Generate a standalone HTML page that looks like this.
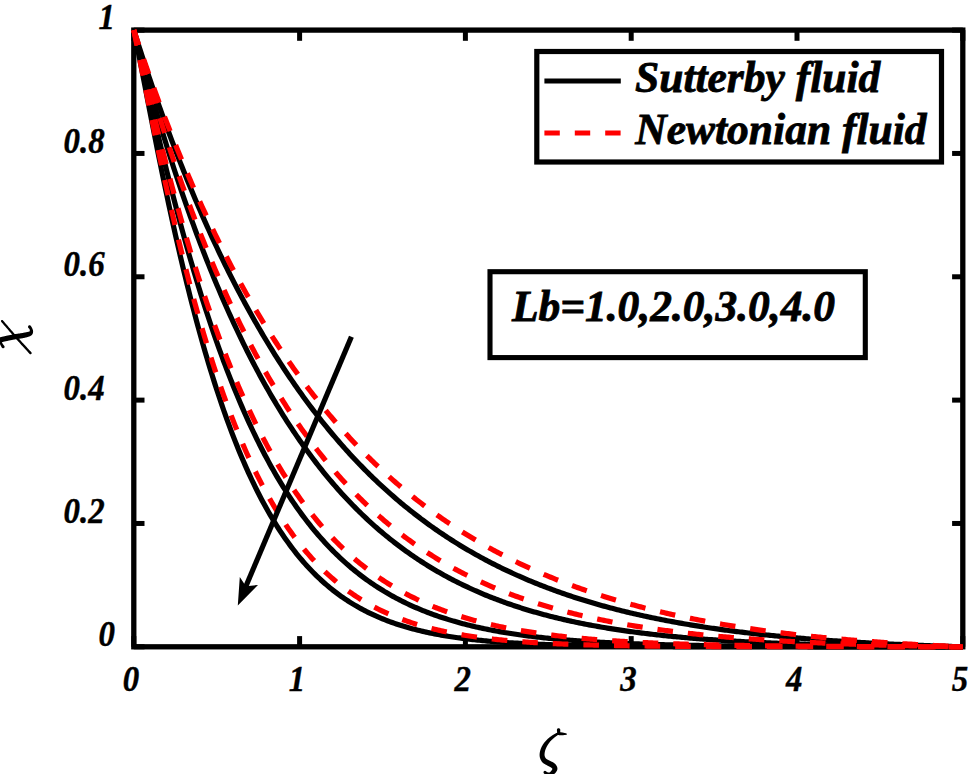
<!DOCTYPE html>
<html><head><meta charset="utf-8"><style>
html,body{margin:0;padding:0;background:#fff;}
svg{display:block;}
</style></head><body>
<svg width="969" height="774" viewBox="0 0 969 774">
<rect width="969" height="774" fill="#fff"/>
<rect x="133.8" y="30.1" width="829.0" height="616.6999999999999" fill="none" stroke="#000" stroke-width="5.3"/>
<g stroke="#000" stroke-width="5"><line x1="133.80" y1="646.8" x2="133.80" y2="636.0999999999999" /><line x1="133.80" y1="30.1" x2="133.80" y2="40.8" /><line x1="299.60" y1="646.8" x2="299.60" y2="636.0999999999999" /><line x1="299.60" y1="30.1" x2="299.60" y2="40.8" /><line x1="465.40" y1="646.8" x2="465.40" y2="636.0999999999999" /><line x1="465.40" y1="30.1" x2="465.40" y2="40.8" /><line x1="631.20" y1="646.8" x2="631.20" y2="636.0999999999999" /><line x1="631.20" y1="30.1" x2="631.20" y2="40.8" /><line x1="797.00" y1="646.8" x2="797.00" y2="636.0999999999999" /><line x1="797.00" y1="30.1" x2="797.00" y2="40.8" /><line x1="962.80" y1="646.8" x2="962.80" y2="636.0999999999999" /><line x1="962.80" y1="30.1" x2="962.80" y2="40.8" /><line x1="133.8" y1="646.80" x2="144.5" y2="646.80" /><line x1="962.8" y1="646.80" x2="952.0999999999999" y2="646.80" /><line x1="133.8" y1="523.46" x2="144.5" y2="523.46" /><line x1="962.8" y1="523.46" x2="952.0999999999999" y2="523.46" /><line x1="133.8" y1="400.12" x2="144.5" y2="400.12" /><line x1="962.8" y1="400.12" x2="952.0999999999999" y2="400.12" /><line x1="133.8" y1="276.78" x2="144.5" y2="276.78" /><line x1="962.8" y1="276.78" x2="952.0999999999999" y2="276.78" /><line x1="133.8" y1="153.44" x2="144.5" y2="153.44" /><line x1="962.8" y1="153.44" x2="952.0999999999999" y2="153.44" /><line x1="133.8" y1="30.10" x2="144.5" y2="30.10" /><line x1="962.8" y1="30.10" x2="952.0999999999999" y2="30.10" /></g>
<polyline points="133.80,30.10 135.46,37.84 137.12,46.03 138.78,54.40 140.45,62.89 142.11,71.43 143.77,80.01 145.43,88.60 147.09,97.18 148.75,105.74 150.41,114.27 152.07,122.76 153.74,131.19 155.40,139.58 157.06,147.90 158.72,156.15 160.38,164.34 162.04,172.45 163.70,180.48 165.37,188.43 167.03,196.30 168.69,204.09 170.35,211.79 172.01,219.40 173.67,226.92 175.33,234.35 176.99,241.69 178.66,248.94 180.32,256.10 181.98,263.16 183.64,270.13 185.30,277.00 186.96,283.78 188.62,290.47 190.28,297.06 191.95,303.55 193.61,309.96 195.27,316.27 196.93,322.48 198.59,328.61 200.25,334.64 201.91,340.58 203.58,346.43 205.24,352.19 206.90,357.85 208.56,363.43 210.22,368.92 211.88,374.32 213.54,379.64 215.20,384.86 216.87,390.00 218.53,395.06 220.19,400.03 221.85,404.92 223.51,409.73 225.17,414.45 226.83,419.10 228.50,423.66 230.16,428.15 231.82,432.56 233.48,436.89 235.14,441.15 236.80,445.33 238.46,449.43 240.12,453.47 241.79,457.43 243.45,461.32 245.11,465.14 246.77,468.89 248.43,472.57 250.09,476.19 251.75,479.74 253.42,483.22 255.08,486.64 256.74,489.99 258.40,493.28 260.06,496.52 261.72,499.69 263.38,502.79 265.04,505.85 266.71,508.84 268.37,511.77 270.03,514.65 271.69,517.48 273.35,520.25 275.01,522.96 276.67,525.62 278.34,528.24 280.00,530.80 281.66,533.30 283.32,535.76 284.98,538.18 286.64,540.54 288.30,542.86 289.96,545.13 291.63,547.35 293.29,549.53 294.95,551.67 296.61,553.76 298.27,555.82 299.93,557.83 301.59,559.79 303.25,561.72 304.92,563.61 306.58,565.46 308.24,567.28 309.90,569.05 311.56,570.79 313.22,572.49 314.88,574.16 316.55,575.79 318.21,577.39 319.87,578.96 321.53,580.49 323.19,581.99 324.85,583.46 326.51,584.90 328.17,586.31 329.84,587.68 331.50,589.03 333.16,590.35 334.82,591.64 336.48,592.91 338.14,594.14 339.80,595.35 341.47,596.54 343.13,597.70 344.79,598.83 346.45,599.94 348.11,601.03 349.77,602.09 351.43,603.13 353.09,604.14 354.76,605.14 356.42,606.11 358.08,607.06 359.74,607.99 361.40,608.90 363.06,609.79 364.72,610.66 366.39,611.51 368.05,612.34 369.71,613.15 371.37,613.94 373.03,614.72 374.69,615.48 376.35,616.22 378.01,616.95 379.68,617.66 381.34,618.35 383.00,619.03 384.66,619.69 386.32,620.34 387.98,620.98 389.64,621.59 391.31,622.20 392.97,622.79 394.63,623.37 396.29,623.93 397.95,624.48 399.61,625.02 401.27,625.55 402.93,626.06 404.60,626.56 406.26,627.06 407.92,627.53 409.58,628.00 411.24,628.46 412.90,628.91 414.56,629.34 416.22,629.77 417.89,630.19 419.55,630.59 421.21,630.99 422.87,631.38 424.53,631.76 426.19,632.13 427.85,632.49 429.52,632.84 431.18,633.19 432.84,633.52 434.50,633.85 436.16,634.17 437.82,634.49 439.48,634.79 441.14,635.09 442.81,635.38 444.47,635.67 446.13,635.94 447.79,636.21 449.45,636.48 451.11,636.74 452.77,636.99 454.44,637.23 456.10,637.47 457.76,637.71 459.42,637.94 461.08,638.16 462.74,638.38 464.40,638.59 466.06,638.80 467.73,639.00 469.39,639.20 471.05,639.39 472.71,639.58 474.37,639.76 476.03,639.94 477.69,640.11 479.36,640.28 481.02,640.45 482.68,640.61 484.34,640.77 486.00,640.92 487.66,641.07 489.32,641.22 490.98,641.36 492.65,641.50 494.31,641.64 495.97,641.77 497.63,641.90 499.29,642.03 500.95,642.15 502.61,642.27 504.27,642.39 505.94,642.50 507.60,642.61 509.26,642.72 510.92,642.83 512.58,642.93 514.24,643.03 515.90,643.13 517.57,643.22 519.23,643.32 520.89,643.41 522.55,643.50 524.21,643.58 525.87,643.67 527.53,643.75 529.19,643.83 530.86,643.91 532.52,643.98 534.18,644.06 535.84,644.13 537.50,644.20 539.16,644.27 540.82,644.33 542.49,644.40 544.15,644.46 545.81,644.52 547.47,644.58 549.13,644.64 550.79,644.70 552.45,644.75 554.11,644.81 555.78,644.86 557.44,644.91 559.10,644.96 560.76,645.01 562.42,645.06 564.08,645.11 565.74,645.15 567.41,645.20 569.07,645.24 570.73,645.28 572.39,645.32 574.05,645.36 575.71,645.40 577.37,645.44 579.03,645.47 580.70,645.51 582.36,645.54 584.02,645.58 585.68,645.61 587.34,645.64 589.00,645.67 590.66,645.70 592.33,645.73 593.99,645.76 595.65,645.79 597.31,645.82 598.97,645.84 600.63,645.87 602.29,645.90 603.95,645.92 605.62,645.94 607.28,645.97 608.94,645.99 610.60,646.01 612.26,646.03 613.92,646.05 615.58,646.07 617.24,646.09 618.91,646.11 620.57,646.13 622.23,646.15 623.89,646.17 625.55,646.19 627.21,646.20 628.87,646.22 630.54,646.24 632.20,646.25 633.86,646.27 635.52,646.28 637.18,646.30 638.84,646.31 640.50,646.32 642.16,646.34 643.83,646.35 645.49,646.36 647.15,646.37 648.81,646.39 650.47,646.40 652.13,646.41 653.79,646.42 655.46,646.43 657.12,646.44 658.78,646.45 660.44,646.46 662.10,646.47 663.76,646.48 665.42,646.49 667.08,646.50 668.75,646.50 670.41,646.51 672.07,646.52 673.73,646.53 675.39,646.54 677.05,646.54 678.71,646.55 680.38,646.56 682.04,646.56 683.70,646.57 685.36,646.58 687.02,646.58 688.68,646.59 690.34,646.60 692.00,646.60 693.67,646.61 695.33,646.61 696.99,646.62 698.65,646.62 700.31,646.63 701.97,646.63 703.63,646.64 705.29,646.64 706.96,646.65 708.62,646.65 710.28,646.66 711.94,646.66 713.60,646.66 715.26,646.67 716.92,646.67 718.59,646.68 720.25,646.68 721.91,646.68 723.57,646.69 725.23,646.69 726.89,646.69 728.55,646.70 730.21,646.70 731.88,646.70 733.54,646.70 735.20,646.71 736.86,646.71 738.52,646.71 740.18,646.72 741.84,646.72 743.51,646.72 745.17,646.72 746.83,646.72 748.49,646.73 750.15,646.73 751.81,646.73 753.47,646.73 755.13,646.74 756.80,646.74 758.46,646.74 760.12,646.74 761.78,646.74 763.44,646.74 765.10,646.75 766.76,646.75 768.43,646.75 770.09,646.75 771.75,646.75 773.41,646.75 775.07,646.75 776.73,646.76 778.39,646.76 780.05,646.76 781.72,646.76 783.38,646.76 785.04,646.76 786.70,646.76 788.36,646.76 790.02,646.77 791.68,646.77 793.35,646.77 795.01,646.77 796.67,646.77 798.33,646.77 799.99,646.77 801.65,646.77 803.31,646.77 804.97,646.77 806.64,646.77 808.30,646.78 809.96,646.78 811.62,646.78 813.28,646.78 814.94,646.78 816.60,646.78 818.26,646.78 819.93,646.78 821.59,646.78 823.25,646.78 824.91,646.78 826.57,646.78 828.23,646.78 829.89,646.78 831.56,646.78 833.22,646.79 834.88,646.79 836.54,646.79 838.20,646.79 839.86,646.79 841.52,646.79 843.18,646.79 844.85,646.79 846.51,646.79 848.17,646.79 849.83,646.79 851.49,646.79 853.15,646.79 854.81,646.79 856.48,646.79 858.14,646.79 859.80,646.79 861.46,646.79 863.12,646.79 864.78,646.79 866.44,646.79 868.10,646.79 869.77,646.79 871.43,646.79 873.09,646.79 874.75,646.79 876.41,646.79 878.07,646.79 879.73,646.79 881.40,646.79 883.06,646.79 884.72,646.80 886.38,646.80 888.04,646.80 889.70,646.80 891.36,646.80 893.02,646.80 894.69,646.80 896.35,646.80 898.01,646.80 899.67,646.80 901.33,646.80 902.99,646.80 904.65,646.80 906.32,646.80 907.98,646.80 909.64,646.80 911.30,646.80 912.96,646.80 914.62,646.80 916.28,646.80 917.94,646.80 919.61,646.80 921.27,646.80 922.93,646.80 924.59,646.80 926.25,646.80 927.91,646.80 929.57,646.80 931.23,646.80 932.90,646.80 934.56,646.80 936.22,646.80 937.88,646.80 939.54,646.80 941.20,646.80 942.86,646.80 944.53,646.80 946.19,646.80 947.85,646.80 949.51,646.80 951.17,646.80 952.83,646.80 954.49,646.80 956.15,646.80 957.82,646.80 959.48,646.80 961.14,646.80 962.80,646.80" fill="none" stroke="#000" stroke-width="5.2" stroke-linejoin="round"/>
<polyline points="133.80,30.10 135.46,37.08 137.12,44.27 138.78,51.54 140.45,58.85 142.11,66.17 143.77,73.49 145.43,80.79 147.09,88.07 148.75,95.33 150.41,102.54 152.07,109.72 153.74,116.85 155.40,123.94 157.06,130.97 158.72,137.96 160.38,144.88 162.04,151.75 163.70,158.56 165.37,165.32 167.03,172.01 168.69,178.63 170.35,185.20 172.01,191.70 173.67,198.14 175.33,204.51 176.99,210.82 178.66,217.06 180.32,223.23 181.98,229.34 183.64,235.38 185.30,241.35 186.96,247.26 188.62,253.10 190.28,258.88 191.95,264.59 193.61,270.23 195.27,275.80 196.93,281.31 198.59,286.76 200.25,292.13 201.91,297.45 203.58,302.69 205.24,307.88 206.90,313.00 208.56,318.05 210.22,323.04 211.88,327.97 213.54,332.83 215.20,337.64 216.87,342.38 218.53,347.06 220.19,351.67 221.85,356.23 223.51,360.73 225.17,365.17 226.83,369.55 228.50,373.87 230.16,378.13 231.82,382.33 233.48,386.48 235.14,390.57 236.80,394.61 238.46,398.59 240.12,402.51 241.79,406.38 243.45,410.20 245.11,413.97 246.77,417.68 248.43,421.34 250.09,424.94 251.75,428.50 253.42,432.00 255.08,435.46 256.74,438.87 258.40,442.22 260.06,445.53 261.72,448.79 263.38,452.01 265.04,455.18 266.71,458.30 268.37,461.37 270.03,464.40 271.69,467.39 273.35,470.33 275.01,473.23 276.67,476.08 278.34,478.90 280.00,481.67 281.66,484.40 283.32,487.09 284.98,489.73 286.64,492.34 288.30,494.91 289.96,497.44 291.63,499.93 293.29,502.39 294.95,504.80 296.61,507.18 298.27,509.52 299.93,511.83 301.59,514.10 303.25,516.34 304.92,518.54 306.58,520.71 308.24,522.84 309.90,524.94 311.56,527.01 313.22,529.05 314.88,531.05 316.55,533.02 318.21,534.96 319.87,536.87 321.53,538.75 323.19,540.60 324.85,542.43 326.51,544.22 328.17,545.98 329.84,547.72 331.50,549.43 333.16,551.11 334.82,552.76 336.48,554.39 338.14,555.99 339.80,557.56 341.47,559.11 343.13,560.64 344.79,562.14 346.45,563.61 348.11,565.07 349.77,566.49 351.43,567.90 353.09,569.28 354.76,570.64 356.42,571.98 358.08,573.29 359.74,574.59 361.40,575.86 363.06,577.11 364.72,578.34 366.39,579.55 368.05,580.74 369.71,581.91 371.37,583.06 373.03,584.19 374.69,585.30 376.35,586.40 378.01,587.47 379.68,588.53 381.34,589.57 383.00,590.59 384.66,591.60 386.32,592.59 387.98,593.56 389.64,594.51 391.31,595.45 392.97,596.38 394.63,597.28 396.29,598.18 397.95,599.05 399.61,599.91 401.27,600.76 402.93,601.59 404.60,602.41 406.26,603.22 407.92,604.01 409.58,604.79 411.24,605.55 412.90,606.30 414.56,607.04 416.22,607.76 417.89,608.48 419.55,609.18 421.21,609.86 422.87,610.54 424.53,611.20 426.19,611.86 427.85,612.50 429.52,613.13 431.18,613.75 432.84,614.36 434.50,614.95 436.16,615.54 437.82,616.12 439.48,616.68 441.14,617.24 442.81,617.79 444.47,618.33 446.13,618.85 447.79,619.37 449.45,619.88 451.11,620.38 452.77,620.87 454.44,621.36 456.10,621.83 457.76,622.30 459.42,622.76 461.08,623.20 462.74,623.65 464.40,624.08 466.06,624.51 467.73,624.92 469.39,625.33 471.05,625.74 472.71,626.13 474.37,626.52 476.03,626.91 477.69,627.28 479.36,627.65 481.02,628.01 482.68,628.37 484.34,628.71 486.00,629.06 487.66,629.39 489.32,629.72 490.98,630.05 492.65,630.37 494.31,630.68 495.97,630.99 497.63,631.29 499.29,631.58 500.95,631.87 502.61,632.16 504.27,632.44 505.94,632.71 507.60,632.98 509.26,633.25 510.92,633.51 512.58,633.76 514.24,634.01 515.90,634.26 517.57,634.50 519.23,634.74 520.89,634.97 522.55,635.20 524.21,635.42 525.87,635.64 527.53,635.86 529.19,636.07 530.86,636.28 532.52,636.48 534.18,636.68 535.84,636.88 537.50,637.07 539.16,637.26 540.82,637.44 542.49,637.63 544.15,637.80 545.81,637.98 547.47,638.15 549.13,638.32 550.79,638.49 552.45,638.65 554.11,638.81 555.78,638.97 557.44,639.12 559.10,639.27 560.76,639.42 562.42,639.56 564.08,639.71 565.74,639.85 567.41,639.98 569.07,640.12 570.73,640.25 572.39,640.38 574.05,640.51 575.71,640.63 577.37,640.75 579.03,640.87 580.70,640.99 582.36,641.10 584.02,641.22 585.68,641.33 587.34,641.44 589.00,641.54 590.66,641.65 592.33,641.75 593.99,641.85 595.65,641.95 597.31,642.05 598.97,642.14 600.63,642.24 602.29,642.33 603.95,642.42 605.62,642.51 607.28,642.59 608.94,642.68 610.60,642.76 612.26,642.84 613.92,642.92 615.58,643.00 617.24,643.08 618.91,643.15 620.57,643.23 622.23,643.30 623.89,643.37 625.55,643.44 627.21,643.51 628.87,643.57 630.54,643.64 632.20,643.70 633.86,643.77 635.52,643.83 637.18,643.89 638.84,643.95 640.50,644.01 642.16,644.06 643.83,644.12 645.49,644.18 647.15,644.23 648.81,644.28 650.47,644.33 652.13,644.38 653.79,644.43 655.46,644.48 657.12,644.53 658.78,644.58 660.44,644.62 662.10,644.67 663.76,644.71 665.42,644.76 667.08,644.80 668.75,644.84 670.41,644.88 672.07,644.92 673.73,644.96 675.39,645.00 677.05,645.04 678.71,645.07 680.38,645.11 682.04,645.14 683.70,645.18 685.36,645.21 687.02,645.25 688.68,645.28 690.34,645.31 692.00,645.34 693.67,645.37 695.33,645.40 696.99,645.43 698.65,645.46 700.31,645.49 701.97,645.52 703.63,645.55 705.29,645.57 706.96,645.60 708.62,645.62 710.28,645.65 711.94,645.67 713.60,645.70 715.26,645.72 716.92,645.75 718.59,645.77 720.25,645.79 721.91,645.81 723.57,645.83 725.23,645.85 726.89,645.88 728.55,645.90 730.21,645.92 731.88,645.93 733.54,645.95 735.20,645.97 736.86,645.99 738.52,646.01 740.18,646.03 741.84,646.04 743.51,646.06 745.17,646.08 746.83,646.09 748.49,646.11 750.15,646.12 751.81,646.14 753.47,646.15 755.13,646.17 756.80,646.18 758.46,646.19 760.12,646.21 761.78,646.22 763.44,646.23 765.10,646.25 766.76,646.26 768.43,646.27 770.09,646.28 771.75,646.30 773.41,646.31 775.07,646.32 776.73,646.33 778.39,646.34 780.05,646.35 781.72,646.36 783.38,646.37 785.04,646.38 786.70,646.39 788.36,646.40 790.02,646.41 791.68,646.42 793.35,646.43 795.01,646.44 796.67,646.45 798.33,646.45 799.99,646.46 801.65,646.47 803.31,646.48 804.97,646.49 806.64,646.49 808.30,646.50 809.96,646.51 811.62,646.52 813.28,646.52 814.94,646.53 816.60,646.54 818.26,646.54 819.93,646.55 821.59,646.56 823.25,646.56 824.91,646.57 826.57,646.57 828.23,646.58 829.89,646.59 831.56,646.59 833.22,646.60 834.88,646.60 836.54,646.61 838.20,646.61 839.86,646.62 841.52,646.62 843.18,646.63 844.85,646.63 846.51,646.64 848.17,646.64 849.83,646.64 851.49,646.65 853.15,646.65 854.81,646.66 856.48,646.66 858.14,646.67 859.80,646.67 861.46,646.67 863.12,646.68 864.78,646.68 866.44,646.68 868.10,646.69 869.77,646.69 871.43,646.69 873.09,646.70 874.75,646.70 876.41,646.70 878.07,646.71 879.73,646.71 881.40,646.71 883.06,646.72 884.72,646.72 886.38,646.72 888.04,646.72 889.70,646.73 891.36,646.73 893.02,646.73 894.69,646.73 896.35,646.74 898.01,646.74 899.67,646.74 901.33,646.74 902.99,646.75 904.65,646.75 906.32,646.75 907.98,646.75 909.64,646.75 911.30,646.76 912.96,646.76 914.62,646.76 916.28,646.76 917.94,646.76 919.61,646.77 921.27,646.77 922.93,646.77 924.59,646.77 926.25,646.77 927.91,646.77 929.57,646.77 931.23,646.78 932.90,646.78 934.56,646.78 936.22,646.78 937.88,646.78 939.54,646.78 941.20,646.79 942.86,646.79 944.53,646.79 946.19,646.79 947.85,646.79 949.51,646.79 951.17,646.79 952.83,646.79 954.49,646.79 956.15,646.80 957.82,646.80 959.48,646.80 961.14,646.80 962.80,646.80" fill="none" stroke="#000" stroke-width="5.2" stroke-linejoin="round"/>
<polyline points="133.80,30.10 135.46,36.49 137.12,42.81 138.78,49.08 140.45,55.28 142.11,61.43 143.77,67.51 145.43,73.54 147.09,79.51 148.75,85.43 150.41,91.29 152.07,97.09 153.74,102.84 155.40,108.53 157.06,114.17 158.72,119.76 160.38,125.29 162.04,130.77 163.70,136.20 165.37,141.57 167.03,146.90 168.69,152.17 170.35,157.40 172.01,162.57 173.67,167.69 175.33,172.77 176.99,177.80 178.66,182.77 180.32,187.71 181.98,192.59 183.64,197.43 185.30,202.22 186.96,206.96 188.62,211.66 190.28,216.31 191.95,220.92 193.61,225.48 195.27,230.00 196.93,234.48 198.59,238.91 200.25,243.30 201.91,247.65 203.58,251.96 205.24,256.22 206.90,260.44 208.56,264.62 210.22,268.76 211.88,272.86 213.54,276.92 215.20,280.94 216.87,284.92 218.53,288.86 220.19,292.77 221.85,296.63 223.51,300.46 225.17,304.25 226.83,308.00 228.50,311.71 230.16,315.39 231.82,319.03 233.48,322.64 235.14,326.21 236.80,329.74 238.46,333.24 240.12,336.71 241.79,340.14 243.45,343.53 245.11,346.89 246.77,350.22 248.43,353.52 250.09,356.78 251.75,360.01 253.42,363.21 255.08,366.37 256.74,369.51 258.40,372.61 260.06,375.68 261.72,378.72 263.38,381.73 265.04,384.71 266.71,387.65 268.37,390.57 270.03,393.46 271.69,396.32 273.35,399.15 275.01,401.95 276.67,404.73 278.34,407.47 280.00,410.19 281.66,412.88 283.32,415.54 284.98,418.17 286.64,420.78 288.30,423.36 289.96,425.91 291.63,428.44 293.29,430.94 294.95,433.42 296.61,435.87 298.27,438.29 299.93,440.69 301.59,443.06 303.25,445.41 304.92,447.74 306.58,450.04 308.24,452.32 309.90,454.57 311.56,456.80 313.22,459.01 314.88,461.19 316.55,463.35 318.21,465.49 319.87,467.60 321.53,469.70 323.19,471.77 324.85,473.81 326.51,475.84 328.17,477.85 329.84,479.83 331.50,481.80 333.16,483.74 334.82,485.66 336.48,487.56 338.14,489.44 339.80,491.30 341.47,493.14 343.13,494.97 344.79,496.77 346.45,498.55 348.11,500.31 349.77,502.06 351.43,503.78 353.09,505.49 354.76,507.18 356.42,508.85 358.08,510.50 359.74,512.14 361.40,513.75 363.06,515.35 364.72,516.94 366.39,518.50 368.05,520.05 369.71,521.58 371.37,523.09 373.03,524.59 374.69,526.07 376.35,527.53 378.01,528.98 379.68,530.42 381.34,531.83 383.00,533.23 384.66,534.62 386.32,535.99 387.98,537.34 389.64,538.69 391.31,540.01 392.97,541.32 394.63,542.62 396.29,543.90 397.95,545.17 399.61,546.42 401.27,547.66 402.93,548.88 404.60,550.10 406.26,551.29 407.92,552.48 409.58,553.65 411.24,554.81 412.90,555.95 414.56,557.08 416.22,558.20 417.89,559.31 419.55,560.40 421.21,561.49 422.87,562.56 424.53,563.61 426.19,564.66 427.85,565.69 429.52,566.71 431.18,567.72 432.84,568.72 434.50,569.71 436.16,570.68 437.82,571.65 439.48,572.60 441.14,573.54 442.81,574.48 444.47,575.40 446.13,576.31 447.79,577.21 449.45,578.09 451.11,578.97 452.77,579.84 454.44,580.70 456.10,581.55 457.76,582.39 459.42,583.22 461.08,584.04 462.74,584.85 464.40,585.65 466.06,586.44 467.73,587.22 469.39,587.99 471.05,588.75 472.71,589.51 474.37,590.25 476.03,590.99 477.69,591.72 479.36,592.44 481.02,593.15 482.68,593.85 484.34,594.54 486.00,595.23 487.66,595.91 489.32,596.58 490.98,597.24 492.65,597.89 494.31,598.54 495.97,599.17 497.63,599.80 499.29,600.43 500.95,601.04 502.61,601.65 504.27,602.25 505.94,602.84 507.60,603.43 509.26,604.01 510.92,604.58 512.58,605.15 514.24,605.71 515.90,606.26 517.57,606.80 519.23,607.34 520.89,607.87 522.55,608.40 524.21,608.91 525.87,609.43 527.53,609.93 529.19,610.43 530.86,610.93 532.52,611.41 534.18,611.90 535.84,612.37 537.50,612.84 539.16,613.31 540.82,613.76 542.49,614.22 544.15,614.66 545.81,615.10 547.47,615.54 549.13,615.97 550.79,616.40 552.45,616.82 554.11,617.23 555.78,617.64 557.44,618.04 559.10,618.44 560.76,618.84 562.42,619.23 564.08,619.61 565.74,619.99 567.41,620.37 569.07,620.74 570.73,621.10 572.39,621.46 574.05,621.82 575.71,622.17 577.37,622.52 579.03,622.86 580.70,623.20 582.36,623.53 584.02,623.86 585.68,624.19 587.34,624.51 589.00,624.83 590.66,625.14 592.33,625.45 593.99,625.76 595.65,626.06 597.31,626.35 598.97,626.65 600.63,626.94 602.29,627.22 603.95,627.51 605.62,627.79 607.28,628.06 608.94,628.33 610.60,628.60 612.26,628.86 613.92,629.13 615.58,629.38 617.24,629.64 618.91,629.89 620.57,630.14 622.23,630.38 623.89,630.62 625.55,630.86 627.21,631.10 628.87,631.33 630.54,631.56 632.20,631.78 633.86,632.01 635.52,632.23 637.18,632.44 638.84,632.66 640.50,632.87 642.16,633.08 643.83,633.28 645.49,633.49 647.15,633.69 648.81,633.88 650.47,634.08 652.13,634.27 653.79,634.46 655.46,634.65 657.12,634.83 658.78,635.02 660.44,635.20 662.10,635.37 663.76,635.55 665.42,635.72 667.08,635.89 668.75,636.06 670.41,636.22 672.07,636.39 673.73,636.55 675.39,636.71 677.05,636.87 678.71,637.02 680.38,637.17 682.04,637.32 683.70,637.47 685.36,637.62 687.02,637.76 688.68,637.91 690.34,638.05 692.00,638.19 693.67,638.32 695.33,638.46 696.99,638.59 698.65,638.72 700.31,638.85 701.97,638.98 703.63,639.10 705.29,639.23 706.96,639.35 708.62,639.47 710.28,639.59 711.94,639.71 713.60,639.82 715.26,639.94 716.92,640.05 718.59,640.16 720.25,640.27 721.91,640.38 723.57,640.49 725.23,640.59 726.89,640.69 728.55,640.80 730.21,640.90 731.88,641.00 733.54,641.09 735.20,641.19 736.86,641.28 738.52,641.38 740.18,641.47 741.84,641.56 743.51,641.65 745.17,641.74 746.83,641.83 748.49,641.91 750.15,642.00 751.81,642.08 753.47,642.16 755.13,642.24 756.80,642.32 758.46,642.40 760.12,642.48 761.78,642.56 763.44,642.63 765.10,642.71 766.76,642.78 768.43,642.85 770.09,642.92 771.75,642.99 773.41,643.06 775.07,643.13 776.73,643.20 778.39,643.26 780.05,643.33 781.72,643.39 783.38,643.46 785.04,643.52 786.70,643.58 788.36,643.64 790.02,643.70 791.68,643.76 793.35,643.82 795.01,643.88 796.67,643.93 798.33,643.99 799.99,644.04 801.65,644.10 803.31,644.15 804.97,644.20 806.64,644.25 808.30,644.30 809.96,644.35 811.62,644.40 813.28,644.45 814.94,644.50 816.60,644.55 818.26,644.59 819.93,644.64 821.59,644.68 823.25,644.73 824.91,644.77 826.57,644.82 828.23,644.86 829.89,644.90 831.56,644.94 833.22,644.98 834.88,645.02 836.54,645.06 838.20,645.10 839.86,645.14 841.52,645.17 843.18,645.21 844.85,645.25 846.51,645.28 848.17,645.32 849.83,645.35 851.49,645.39 853.15,645.42 854.81,645.46 856.48,645.49 858.14,645.52 859.80,645.55 861.46,645.58 863.12,645.61 864.78,645.64 866.44,645.67 868.10,645.70 869.77,645.73 871.43,645.76 873.09,645.79 874.75,645.82 876.41,645.84 878.07,645.87 879.73,645.90 881.40,645.92 883.06,645.95 884.72,645.97 886.38,646.00 888.04,646.02 889.70,646.05 891.36,646.07 893.02,646.09 894.69,646.12 896.35,646.14 898.01,646.16 899.67,646.18 901.33,646.20 902.99,646.23 904.65,646.25 906.32,646.27 907.98,646.29 909.64,646.31 911.30,646.33 912.96,646.35 914.62,646.36 916.28,646.38 917.94,646.40 919.61,646.42 921.27,646.44 922.93,646.45 924.59,646.47 926.25,646.49 927.91,646.51 929.57,646.52 931.23,646.54 932.90,646.55 934.56,646.57 936.22,646.59 937.88,646.60 939.54,646.62 941.20,646.63 942.86,646.64 944.53,646.66 946.19,646.67 947.85,646.69 949.51,646.70 951.17,646.71 952.83,646.73 954.49,646.74 956.15,646.75 957.82,646.76 959.48,646.78 961.14,646.79 962.80,646.80" fill="none" stroke="#000" stroke-width="5.2" stroke-linejoin="round"/>
<polyline points="133.80,30.10 135.46,35.37 137.12,40.60 138.78,45.78 140.45,50.92 142.11,56.02 143.77,61.08 145.43,66.10 147.09,71.08 148.75,76.01 150.41,80.91 152.07,85.77 153.74,90.58 155.40,95.36 157.06,100.10 158.72,104.81 160.38,109.47 162.04,114.10 163.70,118.69 165.37,123.24 167.03,127.75 168.69,132.23 170.35,136.68 172.01,141.08 173.67,145.45 175.33,149.79 176.99,154.09 178.66,158.36 180.32,162.59 181.98,166.79 183.64,170.95 185.30,175.08 186.96,179.18 188.62,183.25 190.28,187.28 191.95,191.28 193.61,195.24 195.27,199.18 196.93,203.08 198.59,206.95 200.25,210.79 201.91,214.60 203.58,218.38 205.24,222.12 206.90,225.84 208.56,229.53 210.22,233.18 211.88,236.81 213.54,240.41 215.20,243.98 216.87,247.51 218.53,251.03 220.19,254.51 221.85,257.96 223.51,261.39 225.17,264.78 226.83,268.15 228.50,271.50 230.16,274.81 231.82,278.10 233.48,281.36 235.14,284.60 236.80,287.81 238.46,290.99 240.12,294.15 241.79,297.28 243.45,300.38 245.11,303.46 246.77,306.51 248.43,309.54 250.09,312.55 251.75,315.53 253.42,318.48 255.08,321.42 256.74,324.32 258.40,327.21 260.06,330.06 261.72,332.90 263.38,335.71 265.04,338.50 266.71,341.27 268.37,344.01 270.03,346.73 271.69,349.43 273.35,352.11 275.01,354.76 276.67,357.40 278.34,360.01 280.00,362.60 281.66,365.16 283.32,367.71 284.98,370.23 286.64,372.74 288.30,375.22 289.96,377.69 291.63,380.13 293.29,382.55 294.95,384.95 296.61,387.33 298.27,389.70 299.93,392.04 301.59,394.36 303.25,396.66 304.92,398.95 306.58,401.21 308.24,403.46 309.90,405.69 311.56,407.90 313.22,410.09 314.88,412.26 316.55,414.41 318.21,416.55 319.87,418.67 321.53,420.77 323.19,422.85 324.85,424.91 326.51,426.96 328.17,428.99 329.84,431.01 331.50,433.00 333.16,434.98 334.82,436.94 336.48,438.89 338.14,440.82 339.80,442.73 341.47,444.63 343.13,446.51 344.79,448.38 346.45,450.23 348.11,452.06 349.77,453.88 351.43,455.68 353.09,457.47 354.76,459.24 356.42,461.00 358.08,462.74 359.74,464.47 361.40,466.18 363.06,467.88 364.72,469.56 366.39,471.23 368.05,472.89 369.71,474.53 371.37,476.15 373.03,477.77 374.69,479.37 376.35,480.95 378.01,482.52 379.68,484.08 381.34,485.62 383.00,487.16 384.66,488.67 386.32,490.18 387.98,491.67 389.64,493.15 391.31,494.62 392.97,496.07 394.63,497.51 396.29,498.94 397.95,500.36 399.61,501.76 401.27,503.16 402.93,504.54 404.60,505.90 406.26,507.26 407.92,508.60 409.58,509.94 411.24,511.26 412.90,512.57 414.56,513.87 416.22,515.15 417.89,516.43 419.55,517.69 421.21,518.95 422.87,520.19 424.53,521.42 426.19,522.64 427.85,523.85 429.52,525.05 431.18,526.24 432.84,527.42 434.50,528.59 436.16,529.75 437.82,530.89 439.48,532.03 441.14,533.16 442.81,534.28 444.47,535.38 446.13,536.48 447.79,537.57 449.45,538.65 451.11,539.72 452.77,540.78 454.44,541.83 456.10,542.87 457.76,543.90 459.42,544.93 461.08,545.94 462.74,546.94 464.40,547.94 466.06,548.93 467.73,549.90 469.39,550.87 471.05,551.83 472.71,552.79 474.37,553.73 476.03,554.66 477.69,555.59 479.36,556.51 481.02,557.42 482.68,558.32 484.34,559.22 486.00,560.10 487.66,560.98 489.32,561.85 490.98,562.71 492.65,563.57 494.31,564.41 495.97,565.25 497.63,566.09 499.29,566.91 500.95,567.73 502.61,568.54 504.27,569.34 505.94,570.13 507.60,570.92 509.26,571.70 510.92,572.47 512.58,573.24 514.24,574.00 515.90,574.75 517.57,575.50 519.23,576.24 520.89,576.97 522.55,577.69 524.21,578.41 525.87,579.12 527.53,579.83 529.19,580.53 530.86,581.22 532.52,581.91 534.18,582.59 535.84,583.26 537.50,583.93 539.16,584.59 540.82,585.25 542.49,585.90 544.15,586.54 545.81,587.18 547.47,587.81 549.13,588.44 550.79,589.06 552.45,589.67 554.11,590.28 555.78,590.88 557.44,591.48 559.10,592.07 560.76,592.66 562.42,593.24 564.08,593.81 565.74,594.39 567.41,594.95 569.07,595.51 570.73,596.06 572.39,596.61 574.05,597.16 575.71,597.70 577.37,598.23 579.03,598.76 580.70,599.28 582.36,599.80 584.02,600.32 585.68,600.83 587.34,601.33 589.00,601.83 590.66,602.33 592.33,602.82 593.99,603.30 595.65,603.79 597.31,604.26 598.97,604.74 600.63,605.20 602.29,605.67 603.95,606.13 605.62,606.58 607.28,607.03 608.94,607.48 610.60,607.92 612.26,608.36 613.92,608.79 615.58,609.22 617.24,609.65 618.91,610.07 620.57,610.49 622.23,610.90 623.89,611.31 625.55,611.71 627.21,612.12 628.87,612.51 630.54,612.91 632.20,613.30 633.86,613.69 635.52,614.07 637.18,614.45 638.84,614.82 640.50,615.19 642.16,615.56 643.83,615.93 645.49,616.29 647.15,616.65 648.81,617.00 650.47,617.35 652.13,617.70 653.79,618.04 655.46,618.39 657.12,618.72 658.78,619.06 660.44,619.39 662.10,619.72 663.76,620.04 665.42,620.36 667.08,620.68 668.75,621.00 670.41,621.31 672.07,621.62 673.73,621.92 675.39,622.23 677.05,622.53 678.71,622.83 680.38,623.12 682.04,623.41 683.70,623.70 685.36,623.99 687.02,624.27 688.68,624.55 690.34,624.83 692.00,625.10 693.67,625.37 695.33,625.64 696.99,625.91 698.65,626.17 700.31,626.44 701.97,626.69 703.63,626.95 705.29,627.21 706.96,627.46 708.62,627.71 710.28,627.95 711.94,628.20 713.60,628.44 715.26,628.68 716.92,628.91 718.59,629.15 720.25,629.38 721.91,629.61 723.57,629.84 725.23,630.06 726.89,630.29 728.55,630.51 730.21,630.72 731.88,630.94 733.54,631.16 735.20,631.37 736.86,631.58 738.52,631.79 740.18,631.99 741.84,632.19 743.51,632.40 745.17,632.60 746.83,632.79 748.49,632.99 750.15,633.18 751.81,633.37 753.47,633.56 755.13,633.75 756.80,633.94 758.46,634.12 760.12,634.30 761.78,634.48 763.44,634.66 765.10,634.84 766.76,635.01 768.43,635.19 770.09,635.36 771.75,635.53 773.41,635.70 775.07,635.86 776.73,636.03 778.39,636.19 780.05,636.35 781.72,636.51 783.38,636.67 785.04,636.82 786.70,636.98 788.36,637.13 790.02,637.28 791.68,637.43 793.35,637.58 795.01,637.73 796.67,637.87 798.33,638.02 799.99,638.16 801.65,638.30 803.31,638.44 804.97,638.58 806.64,638.72 808.30,638.85 809.96,638.99 811.62,639.12 813.28,639.25 814.94,639.38 816.60,639.51 818.26,639.63 819.93,639.76 821.59,639.88 823.25,640.01 824.91,640.13 826.57,640.25 828.23,640.37 829.89,640.49 831.56,640.60 833.22,640.72 834.88,640.83 836.54,640.95 838.20,641.06 839.86,641.17 841.52,641.28 843.18,641.39 844.85,641.49 846.51,641.60 848.17,641.71 849.83,641.81 851.49,641.91 853.15,642.01 854.81,642.12 856.48,642.22 858.14,642.31 859.80,642.41 861.46,642.51 863.12,642.60 864.78,642.70 866.44,642.79 868.10,642.88 869.77,642.98 871.43,643.07 873.09,643.16 874.75,643.24 876.41,643.33 878.07,643.42 879.73,643.50 881.40,643.59 883.06,643.67 884.72,643.76 886.38,643.84 888.04,643.92 889.70,644.00 891.36,644.08 893.02,644.16 894.69,644.24 896.35,644.31 898.01,644.39 899.67,644.47 901.33,644.54 902.99,644.61 904.65,644.69 906.32,644.76 907.98,644.83 909.64,644.90 911.30,644.97 912.96,645.04 914.62,645.11 916.28,645.18 917.94,645.24 919.61,645.31 921.27,645.38 922.93,645.44 924.59,645.50 926.25,645.57 927.91,645.63 929.57,645.69 931.23,645.75 932.90,645.81 934.56,645.87 936.22,645.93 937.88,645.99 939.54,646.05 941.20,646.11 942.86,646.17 944.53,646.22 946.19,646.28 947.85,646.33 949.51,646.39 951.17,646.44 952.83,646.49 954.49,646.55 956.15,646.60 957.82,646.65 959.48,646.70 961.14,646.75 962.80,646.80" fill="none" stroke="#000" stroke-width="5.2" stroke-linejoin="round"/>
<polyline points="133.80,30.10 135.46,38.10 137.12,46.31 138.78,54.59 140.45,62.90 142.11,71.22 143.77,79.53 145.43,87.81 147.09,96.06 148.75,104.26 150.41,112.42 152.07,120.52 153.74,128.56 155.40,136.54 157.06,144.46 158.72,152.30 160.38,160.07 162.04,167.76 163.70,175.38 165.37,182.92 167.03,190.39 168.69,197.77 170.35,205.07 172.01,212.29 173.67,219.42 175.33,226.48 176.99,233.44 178.66,240.33 180.32,247.13 181.98,253.84 183.64,260.47 185.30,267.01 186.96,273.47 188.62,279.85 190.28,286.14 191.95,292.34 193.61,298.46 195.27,304.50 196.93,310.45 198.59,316.33 200.25,322.11 201.91,327.82 203.58,333.45 205.24,338.99 206.90,344.45 208.56,349.84 210.22,355.14 211.88,360.37 213.54,365.51 215.20,370.58 216.87,375.58 218.53,380.49 220.19,385.33 221.85,390.10 223.51,394.80 225.17,399.42 226.83,403.96 228.50,408.44 230.16,412.85 231.82,417.18 233.48,421.45 235.14,425.65 236.80,429.78 238.46,433.84 240.12,437.83 241.79,441.77 243.45,445.63 245.11,449.44 246.77,453.18 248.43,456.85 250.09,460.47 251.75,464.02 253.42,467.52 255.08,470.96 256.74,474.33 258.40,477.65 260.06,480.92 261.72,484.13 263.38,487.28 265.04,490.38 266.71,493.42 268.37,496.41 270.03,499.35 271.69,502.24 273.35,505.07 275.01,507.86 276.67,510.60 278.34,513.29 280.00,515.93 281.66,518.52 283.32,521.07 284.98,523.57 286.64,526.02 288.30,528.44 289.96,530.80 291.63,533.13 293.29,535.41 294.95,537.65 296.61,539.85 298.27,542.01 299.93,544.13 301.59,546.21 303.25,548.25 304.92,550.26 306.58,552.22 308.24,554.15 309.90,556.05 311.56,557.90 313.22,559.73 314.88,561.52 316.55,563.27 318.21,564.99 319.87,566.68 321.53,568.34 323.19,569.96 324.85,571.56 326.51,573.12 328.17,574.65 329.84,576.16 331.50,577.63 333.16,579.08 334.82,580.50 336.48,581.89 338.14,583.25 339.80,584.59 341.47,585.90 343.13,587.19 344.79,588.45 346.45,589.68 348.11,590.89 349.77,592.08 351.43,593.24 353.09,594.38 354.76,595.50 356.42,596.60 358.08,597.67 359.74,598.72 361.40,599.75 363.06,600.76 364.72,601.75 366.39,602.72 368.05,603.67 369.71,604.60 371.37,605.52 373.03,606.41 374.69,607.29 376.35,608.15 378.01,608.99 379.68,609.81 381.34,610.62 383.00,611.41 384.66,612.18 386.32,612.94 387.98,613.68 389.64,614.41 391.31,615.12 392.97,615.81 394.63,616.50 396.29,617.17 397.95,617.82 399.61,618.46 401.27,619.09 402.93,619.70 404.60,620.30 406.26,620.89 407.92,621.47 409.58,622.03 411.24,622.59 412.90,623.13 414.56,623.66 416.22,624.17 417.89,624.68 419.55,625.18 421.21,625.66 422.87,626.14 424.53,626.60 426.19,627.06 427.85,627.51 429.52,627.94 431.18,628.37 432.84,628.79 434.50,629.19 436.16,629.59 437.82,629.99 439.48,630.37 441.14,630.74 442.81,631.11 444.47,631.47 446.13,631.82 447.79,632.16 449.45,632.50 451.11,632.82 452.77,633.15 454.44,633.46 456.10,633.77 457.76,634.07 459.42,634.36 461.08,634.65 462.74,634.93 464.40,635.20 466.06,635.47 467.73,635.73 469.39,635.99 471.05,636.24 472.71,636.49 474.37,636.73 476.03,636.96 477.69,637.19 479.36,637.42 481.02,637.64 482.68,637.85 484.34,638.06 486.00,638.27 487.66,638.47 489.32,638.66 490.98,638.85 492.65,639.04 494.31,639.22 495.97,639.40 497.63,639.58 499.29,639.75 500.95,639.91 502.61,640.08 504.27,640.24 505.94,640.39 507.60,640.55 509.26,640.69 510.92,640.84 512.58,640.98 514.24,641.12 515.90,641.26 517.57,641.39 519.23,641.52 520.89,641.64 522.55,641.77 524.21,641.89 525.87,642.01 527.53,642.12 529.19,642.23 530.86,642.34 532.52,642.45 534.18,642.56 535.84,642.66 537.50,642.76 539.16,642.86 540.82,642.95 542.49,643.05 544.15,643.14 545.81,643.23 547.47,643.31 549.13,643.40 550.79,643.48 552.45,643.56 554.11,643.64 555.78,643.72 557.44,643.79 559.10,643.87 560.76,643.94 562.42,644.01 564.08,644.08 565.74,644.14 567.41,644.21 569.07,644.27 570.73,644.34 572.39,644.40 574.05,644.46 575.71,644.51 577.37,644.57 579.03,644.63 580.70,644.68 582.36,644.73 584.02,644.78 585.68,644.83 587.34,644.88 589.00,644.93 590.66,644.98 592.33,645.02 593.99,645.07 595.65,645.11 597.31,645.15 598.97,645.19 600.63,645.23 602.29,645.27 603.95,645.31 605.62,645.35 607.28,645.38 608.94,645.42 610.60,645.45 612.26,645.49 613.92,645.52 615.58,645.55 617.24,645.59 618.91,645.62 620.57,645.65 622.23,645.68 623.89,645.70 625.55,645.73 627.21,645.76 628.87,645.78 630.54,645.81 632.20,645.84 633.86,645.86 635.52,645.88 637.18,645.91 638.84,645.93 640.50,645.95 642.16,645.97 643.83,646.00 645.49,646.02 647.15,646.04 648.81,646.06 650.47,646.08 652.13,646.09 653.79,646.11 655.46,646.13 657.12,646.15 658.78,646.16 660.44,646.18 662.10,646.20 663.76,646.21 665.42,646.23 667.08,646.24 668.75,646.26 670.41,646.27 672.07,646.28 673.73,646.30 675.39,646.31 677.05,646.32 678.71,646.34 680.38,646.35 682.04,646.36 683.70,646.37 685.36,646.38 687.02,646.39 688.68,646.40 690.34,646.41 692.00,646.42 693.67,646.43 695.33,646.44 696.99,646.45 698.65,646.46 700.31,646.47 701.97,646.48 703.63,646.49 705.29,646.50 706.96,646.51 708.62,646.51 710.28,646.52 711.94,646.53 713.60,646.54 715.26,646.54 716.92,646.55 718.59,646.56 720.25,646.56 721.91,646.57 723.57,646.58 725.23,646.58 726.89,646.59 728.55,646.59 730.21,646.60 731.88,646.60 733.54,646.61 735.20,646.61 736.86,646.62 738.52,646.62 740.18,646.63 741.84,646.63 743.51,646.64 745.17,646.64 746.83,646.65 748.49,646.65 750.15,646.66 751.81,646.66 753.47,646.66 755.13,646.67 756.80,646.67 758.46,646.67 760.12,646.68 761.78,646.68 763.44,646.68 765.10,646.69 766.76,646.69 768.43,646.69 770.09,646.70 771.75,646.70 773.41,646.70 775.07,646.70 776.73,646.71 778.39,646.71 780.05,646.71 781.72,646.72 783.38,646.72 785.04,646.72 786.70,646.72 788.36,646.72 790.02,646.73 791.68,646.73 793.35,646.73 795.01,646.73 796.67,646.73 798.33,646.74 799.99,646.74 801.65,646.74 803.31,646.74 804.97,646.74 806.64,646.75 808.30,646.75 809.96,646.75 811.62,646.75 813.28,646.75 814.94,646.75 816.60,646.75 818.26,646.76 819.93,646.76 821.59,646.76 823.25,646.76 824.91,646.76 826.57,646.76 828.23,646.76 829.89,646.76 831.56,646.77 833.22,646.77 834.88,646.77 836.54,646.77 838.20,646.77 839.86,646.77 841.52,646.77 843.18,646.77 844.85,646.77 846.51,646.77 848.17,646.77 849.83,646.78 851.49,646.78 853.15,646.78 854.81,646.78 856.48,646.78 858.14,646.78 859.80,646.78 861.46,646.78 863.12,646.78 864.78,646.78 866.44,646.78 868.10,646.78 869.77,646.78 871.43,646.78 873.09,646.78 874.75,646.79 876.41,646.79 878.07,646.79 879.73,646.79 881.40,646.79 883.06,646.79 884.72,646.79 886.38,646.79 888.04,646.79 889.70,646.79 891.36,646.79 893.02,646.79 894.69,646.79 896.35,646.79 898.01,646.79 899.67,646.79 901.33,646.79 902.99,646.79 904.65,646.79 906.32,646.79 907.98,646.79 909.64,646.79 911.30,646.79 912.96,646.79 914.62,646.79 916.28,646.79 917.94,646.80 919.61,646.80 921.27,646.80 922.93,646.80 924.59,646.80 926.25,646.80 927.91,646.80 929.57,646.80 931.23,646.80 932.90,646.80 934.56,646.80 936.22,646.80 937.88,646.80 939.54,646.80 941.20,646.80 942.86,646.80 944.53,646.80 946.19,646.80 947.85,646.80 949.51,646.80 951.17,646.80 952.83,646.80 954.49,646.80 956.15,646.80 957.82,646.80 959.48,646.80 961.14,646.80 962.80,646.80" fill="none" stroke="#f00" stroke-width="5.2" stroke-dasharray="15.6 15" stroke-linejoin="round"/>
<polyline points="133.80,30.10 135.46,36.96 137.12,44.00 138.78,51.09 140.45,58.20 142.11,65.31 143.77,72.41 145.43,79.49 147.09,86.53 148.75,93.54 150.41,100.51 152.07,107.43 153.74,114.31 155.40,121.14 157.06,127.91 158.72,134.63 160.38,141.30 162.04,147.91 163.70,154.46 165.37,160.95 167.03,167.38 168.69,173.75 170.35,180.06 172.01,186.30 173.67,192.49 175.33,198.61 176.99,204.67 178.66,210.67 180.32,216.60 181.98,222.47 183.64,228.28 185.30,234.02 186.96,239.71 188.62,245.32 190.28,250.88 191.95,256.37 193.61,261.81 195.27,267.18 196.93,272.48 198.59,277.73 200.25,282.91 201.91,288.04 203.58,293.10 205.24,298.10 206.90,303.05 208.56,307.93 210.22,312.75 211.88,317.52 213.54,322.23 215.20,326.88 216.87,331.47 218.53,336.00 220.19,340.48 221.85,344.90 223.51,349.27 225.17,353.58 226.83,357.84 228.50,362.04 230.16,366.19 231.82,370.29 233.48,374.33 235.14,378.32 236.80,382.26 238.46,386.15 240.12,389.99 241.79,393.77 243.45,397.51 245.11,401.20 246.77,404.84 248.43,408.43 250.09,411.97 251.75,415.47 253.42,418.92 255.08,422.32 256.74,425.68 258.40,428.99 260.06,432.25 261.72,435.48 263.38,438.66 265.04,441.79 266.71,444.88 268.37,447.93 270.03,450.94 271.69,453.91 273.35,456.83 275.01,459.72 276.67,462.56 278.34,465.37 280.00,468.13 281.66,470.86 283.32,473.55 284.98,476.20 286.64,478.82 288.30,481.40 289.96,483.94 291.63,486.44 293.29,488.91 294.95,491.35 296.61,493.75 298.27,496.11 299.93,498.45 301.59,500.74 303.25,503.01 304.92,505.24 306.58,507.44 308.24,509.61 309.90,511.75 311.56,513.86 313.22,515.94 314.88,517.98 316.55,520.00 318.21,521.99 319.87,523.94 321.53,525.87 323.19,527.77 324.85,529.65 326.51,531.49 328.17,533.31 329.84,535.10 331.50,536.87 333.16,538.61 334.82,540.32 336.48,542.01 338.14,543.67 339.80,545.31 341.47,546.93 343.13,548.52 344.79,550.08 346.45,551.63 348.11,553.15 349.77,554.64 351.43,556.12 353.09,557.57 354.76,559.00 356.42,560.41 358.08,561.80 359.74,563.16 361.40,564.51 363.06,565.83 364.72,567.14 366.39,568.42 368.05,569.69 369.71,570.94 371.37,572.16 373.03,573.37 374.69,574.56 376.35,575.74 378.01,576.89 379.68,578.03 381.34,579.15 383.00,580.25 384.66,581.33 386.32,582.40 387.98,583.45 389.64,584.49 391.31,585.51 392.97,586.51 394.63,587.50 396.29,588.47 397.95,589.43 399.61,590.37 401.27,591.30 402.93,592.21 404.60,593.11 406.26,593.99 407.92,594.86 409.58,595.72 411.24,596.57 412.90,597.40 414.56,598.21 416.22,599.02 417.89,599.81 419.55,600.59 421.21,601.36 422.87,602.11 424.53,602.86 426.19,603.59 427.85,604.31 429.52,605.02 431.18,605.71 432.84,606.40 434.50,607.07 436.16,607.74 437.82,608.39 439.48,609.04 441.14,609.67 442.81,610.29 444.47,610.90 446.13,611.51 447.79,612.10 449.45,612.68 451.11,613.26 452.77,613.82 454.44,614.38 456.10,614.93 457.76,615.47 459.42,616.00 461.08,616.52 462.74,617.03 464.40,617.53 466.06,618.03 467.73,618.52 469.39,619.00 471.05,619.47 472.71,619.94 474.37,620.39 476.03,620.84 477.69,621.29 479.36,621.72 481.02,622.15 482.68,622.57 484.34,622.99 486.00,623.39 487.66,623.79 489.32,624.19 490.98,624.58 492.65,624.96 494.31,625.33 495.97,625.70 497.63,626.06 499.29,626.42 500.95,626.77 502.61,627.12 504.27,627.46 505.94,627.79 507.60,628.12 509.26,628.44 510.92,628.76 512.58,629.07 514.24,629.38 515.90,629.68 517.57,629.98 519.23,630.27 520.89,630.56 522.55,630.84 524.21,631.12 525.87,631.39 527.53,631.66 529.19,631.92 530.86,632.18 532.52,632.44 534.18,632.69 535.84,632.94 537.50,633.18 539.16,633.42 540.82,633.65 542.49,633.88 544.15,634.11 545.81,634.33 547.47,634.55 549.13,634.77 550.79,634.98 552.45,635.19 554.11,635.39 555.78,635.59 557.44,635.79 559.10,635.99 560.76,636.18 562.42,636.36 564.08,636.55 565.74,636.73 567.41,636.91 569.07,637.09 570.73,637.26 572.39,637.43 574.05,637.59 575.71,637.76 577.37,637.92 579.03,638.08 580.70,638.23 582.36,638.39 584.02,638.54 585.68,638.68 587.34,638.83 589.00,638.97 590.66,639.11 592.33,639.25 593.99,639.39 595.65,639.52 597.31,639.65 598.97,639.78 600.63,639.91 602.29,640.03 603.95,640.15 605.62,640.27 607.28,640.39 608.94,640.51 610.60,640.62 612.26,640.73 613.92,640.84 615.58,640.95 617.24,641.06 618.91,641.16 620.57,641.26 622.23,641.37 623.89,641.46 625.55,641.56 627.21,641.66 628.87,641.75 630.54,641.84 632.20,641.94 633.86,642.02 635.52,642.11 637.18,642.20 638.84,642.28 640.50,642.37 642.16,642.45 643.83,642.53 645.49,642.61 647.15,642.68 648.81,642.76 650.47,642.84 652.13,642.91 653.79,642.98 655.46,643.05 657.12,643.12 658.78,643.19 660.44,643.26 662.10,643.32 663.76,643.39 665.42,643.45 667.08,643.51 668.75,643.58 670.41,643.64 672.07,643.70 673.73,643.75 675.39,643.81 677.05,643.87 678.71,643.92 680.38,643.98 682.04,644.03 683.70,644.08 685.36,644.14 687.02,644.19 688.68,644.24 690.34,644.28 692.00,644.33 693.67,644.38 695.33,644.43 696.99,644.47 698.65,644.52 700.31,644.56 701.97,644.60 703.63,644.64 705.29,644.69 706.96,644.73 708.62,644.77 710.28,644.81 711.94,644.84 713.60,644.88 715.26,644.92 716.92,644.96 718.59,644.99 720.25,645.03 721.91,645.06 723.57,645.10 725.23,645.13 726.89,645.16 728.55,645.20 730.21,645.23 731.88,645.26 733.54,645.29 735.20,645.32 736.86,645.35 738.52,645.38 740.18,645.41 741.84,645.43 743.51,645.46 745.17,645.49 746.83,645.51 748.49,645.54 750.15,645.57 751.81,645.59 753.47,645.61 755.13,645.64 756.80,645.66 758.46,645.69 760.12,645.71 761.78,645.73 763.44,645.75 765.10,645.77 766.76,645.80 768.43,645.82 770.09,645.84 771.75,645.86 773.41,645.88 775.07,645.90 776.73,645.92 778.39,645.93 780.05,645.95 781.72,645.97 783.38,645.99 785.04,646.01 786.70,646.02 788.36,646.04 790.02,646.06 791.68,646.07 793.35,646.09 795.01,646.10 796.67,646.12 798.33,646.13 799.99,646.15 801.65,646.16 803.31,646.18 804.97,646.19 806.64,646.20 808.30,646.22 809.96,646.23 811.62,646.24 813.28,646.26 814.94,646.27 816.60,646.28 818.26,646.29 819.93,646.30 821.59,646.32 823.25,646.33 824.91,646.34 826.57,646.35 828.23,646.36 829.89,646.37 831.56,646.38 833.22,646.39 834.88,646.40 836.54,646.41 838.20,646.42 839.86,646.43 841.52,646.44 843.18,646.45 844.85,646.46 846.51,646.46 848.17,646.47 849.83,646.48 851.49,646.49 853.15,646.50 854.81,646.51 856.48,646.51 858.14,646.52 859.80,646.53 861.46,646.54 863.12,646.54 864.78,646.55 866.44,646.56 868.10,646.56 869.77,646.57 871.43,646.58 873.09,646.58 874.75,646.59 876.41,646.60 878.07,646.60 879.73,646.61 881.40,646.61 883.06,646.62 884.72,646.63 886.38,646.63 888.04,646.64 889.70,646.64 891.36,646.65 893.02,646.65 894.69,646.66 896.35,646.66 898.01,646.67 899.67,646.67 901.33,646.68 902.99,646.68 904.65,646.69 906.32,646.69 907.98,646.69 909.64,646.70 911.30,646.70 912.96,646.71 914.62,646.71 916.28,646.72 917.94,646.72 919.61,646.72 921.27,646.73 922.93,646.73 924.59,646.73 926.25,646.74 927.91,646.74 929.57,646.74 931.23,646.75 932.90,646.75 934.56,646.75 936.22,646.76 937.88,646.76 939.54,646.76 941.20,646.77 942.86,646.77 944.53,646.77 946.19,646.77 947.85,646.78 949.51,646.78 951.17,646.78 952.83,646.79 954.49,646.79 956.15,646.79 957.82,646.79 959.48,646.80 961.14,646.80 962.80,646.80" fill="none" stroke="#f00" stroke-width="5.2" stroke-dasharray="15.6 15" stroke-linejoin="round"/>
<polyline points="133.80,30.10 135.46,36.04 137.12,41.94 138.78,47.79 140.45,53.61 142.11,59.38 143.77,65.10 145.43,70.78 147.09,76.41 148.75,82.00 150.41,87.54 152.07,93.04 153.74,98.49 155.40,103.89 157.06,109.25 158.72,114.56 160.38,119.83 162.04,125.05 163.70,130.22 165.37,135.36 167.03,140.44 168.69,145.49 170.35,150.48 172.01,155.44 173.67,160.35 175.33,165.22 176.99,170.04 178.66,174.82 180.32,179.56 181.98,184.26 183.64,188.91 185.30,193.52 186.96,198.10 188.62,202.62 190.28,207.11 191.95,211.56 193.61,215.97 195.27,220.34 196.93,224.66 198.59,228.95 200.25,233.20 201.91,237.41 203.58,241.58 205.24,245.71 206.90,249.80 208.56,253.86 210.22,257.88 211.88,261.86 213.54,265.80 215.20,269.71 216.87,273.58 218.53,277.42 220.19,281.21 221.85,284.98 223.51,288.70 225.17,292.40 226.83,296.05 228.50,299.68 230.16,303.27 231.82,306.82 233.48,310.34 235.14,313.83 236.80,317.29 238.46,320.71 240.12,324.10 241.79,327.45 243.45,330.78 245.11,334.07 246.77,337.33 248.43,340.56 250.09,343.76 251.75,346.93 253.42,350.07 255.08,353.17 256.74,356.25 258.40,359.30 260.06,362.32 261.72,365.31 263.38,368.27 265.04,371.20 266.71,374.10 268.37,376.98 270.03,379.82 271.69,382.64 273.35,385.43 275.01,388.20 276.67,390.93 278.34,393.64 280.00,396.33 281.66,398.98 283.32,401.61 284.98,404.22 286.64,406.80 288.30,409.35 289.96,411.88 291.63,414.39 293.29,416.86 294.95,419.32 296.61,421.75 298.27,424.16 299.93,426.54 301.59,428.90 303.25,431.23 304.92,433.54 306.58,435.83 308.24,438.10 309.90,440.34 311.56,442.56 313.22,444.76 314.88,446.94 316.55,449.09 318.21,451.23 319.87,453.34 321.53,455.43 323.19,457.50 324.85,459.55 326.51,461.57 328.17,463.58 329.84,465.57 331.50,467.54 333.16,469.48 334.82,471.41 336.48,473.32 338.14,475.21 339.80,477.08 341.47,478.93 343.13,480.76 344.79,482.57 346.45,484.37 348.11,486.14 349.77,487.90 351.43,489.64 353.09,491.36 354.76,493.07 356.42,494.76 358.08,496.43 359.74,498.08 361.40,499.72 363.06,501.34 364.72,502.94 366.39,504.52 368.05,506.09 369.71,507.65 371.37,509.19 373.03,510.71 374.69,512.21 376.35,513.70 378.01,515.18 379.68,516.64 381.34,518.08 383.00,519.51 384.66,520.93 386.32,522.33 387.98,523.71 389.64,525.09 391.31,526.44 392.97,527.79 394.63,529.11 396.29,530.43 397.95,531.73 399.61,533.02 401.27,534.29 402.93,535.55 404.60,536.80 406.26,538.04 407.92,539.26 409.58,540.47 411.24,541.66 412.90,542.85 414.56,544.02 416.22,545.18 417.89,546.32 419.55,547.46 421.21,548.58 422.87,549.69 424.53,550.79 426.19,551.88 427.85,552.96 429.52,554.02 431.18,555.07 432.84,556.12 434.50,557.15 436.16,558.17 437.82,559.18 439.48,560.18 441.14,561.16 442.81,562.14 444.47,563.11 446.13,564.07 447.79,565.01 449.45,565.95 451.11,566.88 452.77,567.79 454.44,568.70 456.10,569.60 457.76,570.49 459.42,571.36 461.08,572.23 462.74,573.09 464.40,573.94 466.06,574.78 467.73,575.62 469.39,576.44 471.05,577.25 472.71,578.06 474.37,578.86 476.03,579.64 477.69,580.42 479.36,581.20 481.02,581.96 482.68,582.71 484.34,583.46 486.00,584.20 487.66,584.93 489.32,585.65 490.98,586.37 492.65,587.08 494.31,587.77 495.97,588.47 497.63,589.15 499.29,589.83 500.95,590.50 502.61,591.16 504.27,591.82 505.94,592.46 507.60,593.10 509.26,593.74 510.92,594.37 512.58,594.99 514.24,595.60 515.90,596.21 517.57,596.81 519.23,597.40 520.89,597.99 522.55,598.57 524.21,599.14 525.87,599.71 527.53,600.27 529.19,600.83 530.86,601.38 532.52,601.92 534.18,602.46 535.84,602.99 537.50,603.52 539.16,604.04 540.82,604.55 542.49,605.06 544.15,605.56 545.81,606.06 547.47,606.55 549.13,607.04 550.79,607.52 552.45,607.99 554.11,608.46 555.78,608.93 557.44,609.39 559.10,609.84 560.76,610.29 562.42,610.74 564.08,611.18 565.74,611.61 567.41,612.05 569.07,612.47 570.73,612.89 572.39,613.31 574.05,613.72 575.71,614.13 577.37,614.53 579.03,614.93 580.70,615.32 582.36,615.71 584.02,616.09 585.68,616.47 587.34,616.85 589.00,617.22 590.66,617.59 592.33,617.95 593.99,618.31 595.65,618.67 597.31,619.02 598.97,619.37 600.63,619.71 602.29,620.05 603.95,620.39 605.62,620.72 607.28,621.05 608.94,621.37 610.60,621.69 612.26,622.01 613.92,622.33 615.58,622.64 617.24,622.94 618.91,623.25 620.57,623.55 622.23,623.84 623.89,624.14 625.55,624.43 627.21,624.71 628.87,625.00 630.54,625.28 632.20,625.55 633.86,625.83 635.52,626.10 637.18,626.36 638.84,626.63 640.50,626.89 642.16,627.15 643.83,627.41 645.49,627.66 647.15,627.91 648.81,628.15 650.47,628.40 652.13,628.64 653.79,628.88 655.46,629.12 657.12,629.35 658.78,629.58 660.44,629.81 662.10,630.03 663.76,630.26 665.42,630.48 667.08,630.69 668.75,630.91 670.41,631.12 672.07,631.33 673.73,631.54 675.39,631.74 677.05,631.95 678.71,632.15 680.38,632.35 682.04,632.54 683.70,632.74 685.36,632.93 687.02,633.12 688.68,633.31 690.34,633.49 692.00,633.67 693.67,633.85 695.33,634.03 696.99,634.21 698.65,634.38 700.31,634.56 701.97,634.73 703.63,634.90 705.29,635.06 706.96,635.23 708.62,635.39 710.28,635.55 711.94,635.71 713.60,635.87 715.26,636.02 716.92,636.18 718.59,636.33 720.25,636.48 721.91,636.63 723.57,636.77 725.23,636.92 726.89,637.06 728.55,637.20 730.21,637.34 731.88,637.48 733.54,637.62 735.20,637.75 736.86,637.89 738.52,638.02 740.18,638.15 741.84,638.28 743.51,638.41 745.17,638.53 746.83,638.66 748.49,638.78 750.15,638.90 751.81,639.02 753.47,639.14 755.13,639.26 756.80,639.37 758.46,639.49 760.12,639.60 761.78,639.71 763.44,639.82 765.10,639.93 766.76,640.04 768.43,640.15 770.09,640.25 771.75,640.36 773.41,640.46 775.07,640.56 776.73,640.66 778.39,640.76 780.05,640.86 781.72,640.95 783.38,641.05 785.04,641.15 786.70,641.24 788.36,641.33 790.02,641.42 791.68,641.51 793.35,641.60 795.01,641.69 796.67,641.78 798.33,641.86 799.99,641.95 801.65,642.03 803.31,642.12 804.97,642.20 806.64,642.28 808.30,642.36 809.96,642.44 811.62,642.52 813.28,642.59 814.94,642.67 816.60,642.75 818.26,642.82 819.93,642.89 821.59,642.97 823.25,643.04 824.91,643.11 826.57,643.18 828.23,643.25 829.89,643.32 831.56,643.39 833.22,643.45 834.88,643.52 836.54,643.58 838.20,643.65 839.86,643.71 841.52,643.77 843.18,643.84 844.85,643.90 846.51,643.96 848.17,644.02 849.83,644.08 851.49,644.14 853.15,644.19 854.81,644.25 856.48,644.31 858.14,644.36 859.80,644.42 861.46,644.47 863.12,644.53 864.78,644.58 866.44,644.63 868.10,644.69 869.77,644.74 871.43,644.79 873.09,644.84 874.75,644.89 876.41,644.94 878.07,644.98 879.73,645.03 881.40,645.08 883.06,645.12 884.72,645.17 886.38,645.22 888.04,645.26 889.70,645.30 891.36,645.35 893.02,645.39 894.69,645.43 896.35,645.48 898.01,645.52 899.67,645.56 901.33,645.60 902.99,645.64 904.65,645.68 906.32,645.72 907.98,645.76 909.64,645.80 911.30,645.83 912.96,645.87 914.62,645.91 916.28,645.94 917.94,645.98 919.61,646.02 921.27,646.05 922.93,646.09 924.59,646.12 926.25,646.15 927.91,646.19 929.57,646.22 931.23,646.25 932.90,646.28 934.56,646.32 936.22,646.35 937.88,646.38 939.54,646.41 941.20,646.44 942.86,646.47 944.53,646.50 946.19,646.53 947.85,646.56 949.51,646.58 951.17,646.61 952.83,646.64 954.49,646.67 956.15,646.70 957.82,646.72 959.48,646.75 961.14,646.77 962.80,646.80" fill="none" stroke="#f00" stroke-width="5.2" stroke-dasharray="15.6 15" stroke-linejoin="round"/>
<polyline points="133.80,30.10 135.46,35.12 137.12,40.11 138.78,45.05 140.45,49.95 142.11,54.82 143.77,59.64 145.43,64.43 147.09,69.17 148.75,73.88 150.41,78.55 152.07,83.19 153.74,87.78 155.40,92.34 157.06,96.87 158.72,101.35 160.38,105.81 162.04,110.22 163.70,114.60 165.37,118.95 167.03,123.26 168.69,127.53 170.35,131.77 172.01,135.98 173.67,140.15 175.33,144.30 176.99,148.40 178.66,152.48 180.32,156.52 181.98,160.53 183.64,164.51 185.30,168.45 186.96,172.37 188.62,176.25 190.28,180.11 191.95,183.93 193.61,187.72 195.27,191.48 196.93,195.21 198.59,198.92 200.25,202.59 201.91,206.23 203.58,209.85 205.24,213.43 206.90,216.99 208.56,220.52 210.22,224.02 211.88,227.49 213.54,230.94 215.20,234.36 216.87,237.75 218.53,241.11 220.19,244.45 221.85,247.76 223.51,251.05 225.17,254.31 226.83,257.54 228.50,260.75 230.16,263.93 231.82,267.09 233.48,270.22 235.14,273.33 236.80,276.41 238.46,279.47 240.12,282.51 241.79,285.52 243.45,288.50 245.11,291.47 246.77,294.41 248.43,297.32 250.09,300.22 251.75,303.09 253.42,305.93 255.08,308.76 256.74,311.56 258.40,314.34 260.06,317.10 261.72,319.84 263.38,322.56 265.04,325.25 266.71,327.93 268.37,330.58 270.03,333.21 271.69,335.82 273.35,338.41 275.01,340.98 276.67,343.53 278.34,346.06 280.00,348.57 281.66,351.06 283.32,353.53 284.98,355.98 286.64,358.41 288.30,360.82 289.96,363.22 291.63,365.59 293.29,367.95 294.95,370.28 296.61,372.60 298.27,374.90 299.93,377.19 301.59,379.45 303.25,381.70 304.92,383.93 306.58,386.14 308.24,388.33 309.90,390.51 311.56,392.67 313.22,394.81 314.88,396.94 316.55,399.05 318.21,401.14 319.87,403.21 321.53,405.27 323.19,407.32 324.85,409.35 326.51,411.36 328.17,413.35 329.84,415.33 331.50,417.30 333.16,419.25 334.82,421.18 336.48,423.10 338.14,425.00 339.80,426.89 341.47,428.76 343.13,430.62 344.79,432.47 346.45,434.30 348.11,436.11 349.77,437.91 351.43,439.70 353.09,441.47 354.76,443.23 356.42,444.98 358.08,446.71 359.74,448.43 361.40,450.13 363.06,451.82 364.72,453.50 366.39,455.16 368.05,456.81 369.71,458.45 371.37,460.08 373.03,461.69 374.69,463.29 376.35,464.88 378.01,466.45 379.68,468.01 381.34,469.56 383.00,471.10 384.66,472.63 386.32,474.14 387.98,475.64 389.64,477.13 391.31,478.61 392.97,480.08 394.63,481.53 396.29,482.97 397.95,484.40 399.61,485.83 401.27,487.23 402.93,488.63 404.60,490.02 406.26,491.40 407.92,492.76 409.58,494.12 411.24,495.46 412.90,496.79 414.56,498.11 416.22,499.43 417.89,500.73 419.55,502.02 421.21,503.30 422.87,504.57 424.53,505.83 426.19,507.08 427.85,508.32 429.52,509.55 431.18,510.78 432.84,511.99 434.50,513.19 436.16,514.38 437.82,515.57 439.48,516.74 441.14,517.90 442.81,519.06 444.47,520.20 446.13,521.34 447.79,522.47 449.45,523.59 451.11,524.70 452.77,525.80 454.44,526.89 456.10,527.97 457.76,529.05 459.42,530.11 461.08,531.17 462.74,532.22 464.40,533.26 466.06,534.29 467.73,535.32 469.39,536.33 471.05,537.34 472.71,538.34 474.37,539.33 476.03,540.32 477.69,541.29 479.36,542.26 481.02,543.22 482.68,544.18 484.34,545.12 486.00,546.06 487.66,546.99 489.32,547.91 490.98,548.83 492.65,549.73 494.31,550.64 495.97,551.53 497.63,552.41 499.29,553.29 500.95,554.17 502.61,555.03 504.27,555.89 505.94,556.74 507.60,557.58 509.26,558.42 510.92,559.25 512.58,560.07 514.24,560.89 515.90,561.70 517.57,562.51 519.23,563.30 520.89,564.09 522.55,564.88 524.21,565.66 525.87,566.43 527.53,567.20 529.19,567.95 530.86,568.71 532.52,569.45 534.18,570.20 535.84,570.93 537.50,571.66 539.16,572.38 540.82,573.10 542.49,573.81 544.15,574.52 545.81,575.22 547.47,575.91 549.13,576.60 550.79,577.28 552.45,577.96 554.11,578.63 555.78,579.30 557.44,579.96 559.10,580.61 560.76,581.26 562.42,581.91 564.08,582.55 565.74,583.18 567.41,583.81 569.07,584.43 570.73,585.05 572.39,585.67 574.05,586.27 575.71,586.88 577.37,587.48 579.03,588.07 580.70,588.66 582.36,589.24 584.02,589.82 585.68,590.39 587.34,590.96 589.00,591.53 590.66,592.09 592.33,592.64 593.99,593.19 595.65,593.74 597.31,594.28 598.97,594.82 600.63,595.35 602.29,595.88 603.95,596.40 605.62,596.92 607.28,597.44 608.94,597.95 610.60,598.45 612.26,598.96 613.92,599.45 615.58,599.95 617.24,600.44 618.91,600.92 620.57,601.41 622.23,601.88 623.89,602.36 625.55,602.83 627.21,603.29 628.87,603.75 630.54,604.21 632.20,604.66 633.86,605.11 635.52,605.56 637.18,606.00 638.84,606.44 640.50,606.88 642.16,607.31 643.83,607.74 645.49,608.16 647.15,608.58 648.81,609.00 650.47,609.41 652.13,609.82 653.79,610.23 655.46,610.63 657.12,611.03 658.78,611.42 660.44,611.82 662.10,612.21 663.76,612.59 665.42,612.97 667.08,613.35 668.75,613.73 670.41,614.10 672.07,614.47 673.73,614.84 675.39,615.20 677.05,615.56 678.71,615.92 680.38,616.27 682.04,616.62 683.70,616.97 685.36,617.32 687.02,617.66 688.68,618.00 690.34,618.33 692.00,618.67 693.67,619.00 695.33,619.32 696.99,619.65 698.65,619.97 700.31,620.29 701.97,620.60 703.63,620.92 705.29,621.23 706.96,621.54 708.62,621.84 710.28,622.14 711.94,622.44 713.60,622.74 715.26,623.04 716.92,623.33 718.59,623.62 720.25,623.90 721.91,624.19 723.57,624.47 725.23,624.75 726.89,625.03 728.55,625.30 730.21,625.57 731.88,625.84 733.54,626.11 735.20,626.37 736.86,626.64 738.52,626.90 740.18,627.16 741.84,627.41 743.51,627.66 745.17,627.91 746.83,628.16 748.49,628.41 750.15,628.65 751.81,628.90 753.47,629.14 755.13,629.37 756.80,629.61 758.46,629.84 760.12,630.08 761.78,630.30 763.44,630.53 765.10,630.76 766.76,630.98 768.43,631.20 770.09,631.42 771.75,631.64 773.41,631.85 775.07,632.07 776.73,632.28 778.39,632.49 780.05,632.69 781.72,632.90 783.38,633.10 785.04,633.31 786.70,633.51 788.36,633.70 790.02,633.90 791.68,634.10 793.35,634.29 795.01,634.48 796.67,634.67 798.33,634.86 799.99,635.04 801.65,635.23 803.31,635.41 804.97,635.59 806.64,635.77 808.30,635.95 809.96,636.12 811.62,636.30 813.28,636.47 814.94,636.64 816.60,636.81 818.26,636.98 819.93,637.14 821.59,637.31 823.25,637.47 824.91,637.63 826.57,637.79 828.23,637.95 829.89,638.11 831.56,638.26 833.22,638.42 834.88,638.57 836.54,638.72 838.20,638.87 839.86,639.02 841.52,639.16 843.18,639.31 844.85,639.45 846.51,639.60 848.17,639.74 849.83,639.88 851.49,640.02 853.15,640.16 854.81,640.29 856.48,640.43 858.14,640.56 859.80,640.69 861.46,640.82 863.12,640.95 864.78,641.08 866.44,641.21 868.10,641.33 869.77,641.46 871.43,641.58 873.09,641.71 874.75,641.83 876.41,641.95 878.07,642.07 879.73,642.18 881.40,642.30 883.06,642.42 884.72,642.53 886.38,642.64 888.04,642.75 889.70,642.87 891.36,642.98 893.02,643.08 894.69,643.19 896.35,643.30 898.01,643.41 899.67,643.51 901.33,643.61 902.99,643.72 904.65,643.82 906.32,643.92 907.98,644.02 909.64,644.12 911.30,644.21 912.96,644.31 914.62,644.41 916.28,644.50 917.94,644.59 919.61,644.69 921.27,644.78 922.93,644.87 924.59,644.96 926.25,645.05 927.91,645.14 929.57,645.23 931.23,645.31 932.90,645.40 934.56,645.48 936.22,645.57 937.88,645.65 939.54,645.73 941.20,645.81 942.86,645.89 944.53,645.97 946.19,646.05 947.85,646.13 949.51,646.21 951.17,646.29 952.83,646.36 954.49,646.44 956.15,646.51 957.82,646.58 959.48,646.66 961.14,646.73 962.80,646.80" fill="none" stroke="#f00" stroke-width="5.2" stroke-dasharray="15.6 15" stroke-linejoin="round"/>
<line x1="351.4" y1="336.8" x2="244.03" y2="590.66" stroke="#000" stroke-width="5.2"/>
<polygon points="237.8,605.4 258.00,584.90 245.90,586.30 239.80,577.00" fill="#000"/>
<rect x="536.8" y="51.5" width="404.7" height="110.5" fill="#fff" stroke="#000" stroke-width="5.2"/>
<line x1="544.4" y1="81" x2="620.8" y2="81" stroke="#000" stroke-width="5.2"/>
<line x1="544.4" y1="133" x2="620.8" y2="133" stroke="#f00" stroke-width="5.2" stroke-dasharray="15.4 15"/>
<g font-family="Liberation Serif, serif" font-weight="bold" font-style="italic" font-size="43.5" fill="#000" stroke="#000" stroke-width="0.8">
<text x="635" y="92">Sutterby fluid</text>
<text x="635.3" y="144">Newtonian fluid</text>
</g>
<rect x="490" y="271.7" width="375.3" height="85.9" fill="#fff" stroke="#000" stroke-width="5.1"/>
<text x="511.9" y="321" font-family="Liberation Serif, serif" font-weight="bold" font-style="italic" font-size="43.5" fill="#000" stroke="#000" stroke-width="0.8">Lb=1.0,2.0,3.0,4.0</text>
<g font-family="Liberation Serif, serif" font-weight="bold" font-style="italic" font-size="35.8" fill="#000" stroke="#000" stroke-width="0.4"><text transform="translate(131.10,691) scale(0.92,1)" text-anchor="middle">0</text><text transform="translate(296.90,691) scale(0.92,1)" text-anchor="middle">1</text><text transform="translate(462.70,691) scale(0.92,1)" text-anchor="middle">2</text><text transform="translate(628.50,691) scale(0.92,1)" text-anchor="middle">3</text><text transform="translate(794.30,691) scale(0.92,1)" text-anchor="middle">4</text><text transform="translate(960.10,691) scale(0.92,1)" text-anchor="middle">5</text><text transform="translate(115.0,646.30) scale(0.92,1)" text-anchor="end">0</text><text transform="translate(104.7,522.96) scale(0.92,1)" text-anchor="end">0.2</text><text transform="translate(104.7,399.62) scale(0.92,1)" text-anchor="end">0.4</text><text transform="translate(104.7,276.28) scale(0.92,1)" text-anchor="end">0.6</text><text transform="translate(104.7,152.94) scale(0.92,1)" text-anchor="end">0.8</text><text transform="translate(115.0,28.90) scale(0.92,1)" text-anchor="end">1</text></g>
<g fill="#000"><path d="M556.90,729.95 L556.91,730.04 L556.92,730.15 L556.93,730.28 L556.95,730.43 L556.96,730.58 L556.98,730.75 L557.00,730.93 L557.01,731.12 L557.03,731.31 L557.05,731.50 L557.07,731.69 L557.09,731.89 L557.11,732.07 L557.12,732.25 L557.14,732.42 L557.16,732.58 L557.17,732.72 L557.18,732.85 L557.19,732.96 L557.20,733.05 L557.20,733.05 L557.33,733.62 L557.67,734.09 L558.17,734.40 L558.75,734.50 L559.32,734.37 L559.79,734.03 L560.10,733.53 L560.20,732.95 L560.20,732.95 L560.20,732.86 L560.21,732.75 L560.21,732.62 L560.21,732.48 L560.22,732.32 L560.22,732.15 L560.23,731.97 L560.24,731.78 L560.24,731.59 L560.25,731.40 L560.26,731.20 L560.26,731.01 L560.27,730.83 L560.27,730.65 L560.28,730.48 L560.28,730.32 L560.29,730.17 L560.29,730.04 L560.30,729.93 L560.30,729.85 L560.30,729.85 L560.15,729.20 L559.76,728.66 L559.20,728.31 L558.55,728.20 L557.90,728.35 L557.36,728.74 L557.01,729.30 L556.90,729.95 Z"/><path d="M557.30,734.80 L557.38,734.81 L557.46,734.83 L557.56,734.85 L557.67,734.88 L557.79,734.90 L557.91,734.93 L558.04,734.96 L558.18,734.99 L558.32,735.02 L558.47,735.06 L558.62,735.09 L558.77,735.12 L558.93,735.15 L559.08,735.18 L559.24,735.21 L559.39,735.23 L559.54,735.25 L559.69,735.27 L559.83,735.29 L559.97,735.30 L560.11,735.31 L560.26,735.32 L560.40,735.32 L560.54,735.32 L560.69,735.32 L560.83,735.32 L560.98,735.32 L561.12,735.32 L561.27,735.31 L561.42,735.31 L561.57,735.30 L561.72,735.29 L561.87,735.28 L562.02,735.27 L562.17,735.26 L562.32,735.25 L562.48,735.24 L562.63,735.22 L562.78,735.21 L562.94,735.20 L563.09,735.18 L563.26,735.17 L563.43,735.15 L563.61,735.13 L563.79,735.11 L563.98,735.09 L564.16,735.06 L564.35,735.04 L564.54,735.02 L564.72,734.99 L564.90,734.97 L565.08,734.94 L565.25,734.92 L565.41,734.90 L565.57,734.88 L565.71,734.86 L565.84,734.84 L565.96,734.82 L566.07,734.81 L566.16,734.80 L566.16,734.80 L566.43,734.76 L566.66,734.63 L566.83,734.41 L566.90,734.14 L566.86,733.87 L566.73,733.64 L566.51,733.47 L566.24,733.40 L566.24,733.40 L566.16,733.38 L566.06,733.35 L565.94,733.32 L565.81,733.28 L565.68,733.25 L565.53,733.20 L565.37,733.16 L565.20,733.12 L565.03,733.07 L564.85,733.02 L564.67,732.97 L564.49,732.92 L564.30,732.88 L564.12,732.83 L563.93,732.79 L563.75,732.74 L563.57,732.70 L563.39,732.67 L563.23,732.63 L563.06,732.60 L562.91,732.57 L562.75,732.55 L562.60,732.52 L562.44,732.50 L562.29,732.47 L562.13,732.45 L561.98,732.43 L561.82,732.41 L561.67,732.39 L561.52,732.37 L561.37,732.35 L561.21,732.34 L561.06,732.33 L560.91,732.32 L560.76,732.31 L560.61,732.30 L560.47,732.30 L560.32,732.30 L560.17,732.30 L560.03,732.30 L559.88,732.31 L559.72,732.32 L559.56,732.34 L559.41,732.36 L559.24,732.38 L559.08,732.41 L558.92,732.44 L558.77,732.47 L558.61,732.50 L558.46,732.53 L558.31,732.56 L558.16,732.60 L558.03,732.63 L557.89,732.66 L557.77,732.69 L557.66,732.72 L557.55,732.74 L557.45,732.77 L557.37,732.79 L557.30,732.80 L557.30,732.80 L556.92,732.88 L556.59,733.09 L556.38,733.42 L556.30,733.80 L556.38,734.18 L556.59,734.51 L556.92,734.72 L557.30,734.80 Z"/><path d="M556.65,732.89 L556.55,732.95 L556.43,733.01 L556.29,733.08 L556.14,733.16 L555.98,733.25 L555.80,733.34 L555.61,733.44 L555.41,733.55 L555.20,733.66 L554.98,733.78 L554.75,733.90 L554.52,734.03 L554.28,734.16 L554.04,734.30 L553.80,734.44 L553.56,734.59 L553.31,734.74 L553.07,734.89 L552.83,735.05 L552.60,735.20 L552.37,735.36 L552.14,735.51 L551.91,735.67 L551.67,735.84 L551.42,736.01 L551.18,736.18 L550.93,736.36 L550.67,736.54 L550.42,736.73 L550.16,736.92 L549.90,737.12 L549.64,737.32 L549.38,737.52 L549.12,737.73 L548.86,737.94 L548.61,738.15 L548.35,738.37 L548.10,738.60 L547.85,738.83 L547.60,739.05 L547.36,739.28 L547.13,739.51 L546.89,739.74 L546.66,739.97 L546.42,740.21 L546.19,740.45 L545.95,740.70 L545.72,740.95 L545.49,741.20 L545.26,741.46 L545.03,741.72 L544.81,741.98 L544.59,742.25 L544.37,742.52 L544.16,742.79 L543.95,743.07 L543.74,743.35 L543.54,743.63 L543.34,743.92 L543.15,744.21 L542.96,744.50 L542.78,744.79 L542.60,745.09 L542.43,745.39 L542.26,745.69 L542.09,746.00 L541.93,746.30 L541.77,746.61 L541.62,746.93 L541.47,747.24 L541.33,747.56 L541.19,747.87 L541.05,748.19 L540.92,748.51 L540.80,748.82 L540.68,749.14 L540.57,749.46 L540.47,749.78 L540.37,750.09 L540.27,750.40 L540.19,750.71 L540.11,751.02 L540.04,751.32 L539.97,751.63 L539.90,751.94 L539.84,752.26 L539.79,752.57 L539.74,752.89 L539.70,753.20 L539.66,753.52 L539.63,753.84 L539.61,754.16 L539.60,754.48 L539.59,754.81 L539.59,755.13 L539.60,755.46 L539.62,755.78 L539.65,756.11 L539.69,756.43 L539.74,756.76 L539.80,757.07 L539.87,757.39 L539.95,757.69 L540.03,758.00 L540.13,758.30 L540.23,758.60 L540.34,758.90 L540.46,759.20 L540.59,759.49 L540.72,759.77 L540.87,760.06 L541.02,760.34 L541.18,760.61 L541.35,760.88 L541.52,761.15 L541.71,761.41 L541.90,761.66 L542.10,761.91 L542.31,762.16 L542.53,762.41 L542.79,762.67 L543.07,762.92 L543.35,763.16 L543.63,763.38 L543.91,763.58 L544.19,763.77 L544.47,763.95 L544.75,764.11 L545.02,764.27 L545.29,764.42 L545.56,764.57 L545.82,764.71 L546.07,764.84 L546.31,764.97 L546.55,765.09 L546.77,765.21 L546.99,765.32 L547.19,765.43 L547.37,765.53 L547.57,765.65 L547.80,765.79 L548.06,765.93 L548.32,766.06 L548.57,766.19 L548.81,766.32 L549.05,766.43 L549.27,766.55 L549.49,766.65 L549.71,766.76 L549.91,766.86 L550.10,766.95 L550.28,767.04 L550.44,767.13 L550.59,767.21 L550.73,767.29 L550.85,767.37 L550.96,767.43 L551.05,767.50 L551.12,767.55 L551.19,767.60 L551.29,767.69 L551.40,767.79 L551.51,767.89 L551.61,767.99 L551.71,768.09 L551.81,768.19 L551.89,768.28 L551.98,768.37 L552.05,768.46 L552.12,768.54 L552.18,768.62 L552.23,768.68 L552.27,768.74 L552.30,768.79 L552.33,768.83 L552.35,768.85 L552.37,768.86 L552.38,768.85 L552.39,768.83 L552.40,768.79 L552.41,768.74 L552.43,768.72 L552.44,768.72 L552.45,768.76 L552.45,768.81 L552.43,768.89 L552.41,768.98 L552.37,769.08 L552.32,769.20 L552.26,769.32 L552.20,769.46 L552.13,769.59 L552.04,769.73 L551.96,769.88 L551.87,770.02 L551.77,770.16 L551.67,770.31 L551.57,770.45 L551.47,770.59 L551.38,770.72 L551.28,770.84 L551.18,770.96 L551.08,771.09 L550.98,771.21 L550.87,771.33 L550.75,771.45 L550.64,771.57 L550.52,771.69 L550.40,771.80 L550.29,771.90 L550.17,772.00 L550.06,772.09 L549.95,772.18 L549.84,772.26 L549.74,772.33 L549.65,772.39 L549.57,772.44 L549.50,772.48 L549.44,772.52 L549.41,772.54 L549.39,772.56 L549.36,772.58 L549.31,772.59 L549.25,772.61 L549.16,772.62 L549.06,772.62 L548.95,772.61 L548.83,772.60 L548.70,772.58 L548.56,772.56 L548.42,772.53 L548.28,772.50 L548.13,772.46 L547.99,772.42 L547.84,772.37 L547.70,772.33 L547.55,772.28 L547.41,772.23 L547.28,772.18 L547.16,772.14 L547.10,772.12 L547.05,772.11 L547.01,772.09 L546.96,772.07 L546.91,772.04 L546.86,772.01 L546.81,771.97 L546.75,771.93 L546.70,771.89 L546.65,771.84 L546.59,771.79 L546.54,771.73 L546.49,771.68 L546.43,771.62 L546.37,771.56 L546.32,771.49 L546.25,771.42 L546.18,771.35 L546.09,771.26 L546.02,771.20 L546.02,771.20 L545.52,770.89 L544.95,770.80 L544.38,770.94 L543.90,771.28 L543.59,771.78 L543.50,772.35 L543.64,772.92 L543.98,773.40 L543.98,773.40 L543.99,773.41 L543.98,773.41 L544.00,773.43 L544.04,773.48 L544.08,773.53 L544.13,773.60 L544.20,773.68 L544.27,773.77 L544.35,773.86 L544.44,773.96 L544.54,774.07 L544.64,774.18 L544.76,774.29 L544.88,774.40 L545.02,774.52 L545.16,774.63 L545.32,774.75 L545.49,774.86 L545.67,774.97 L545.84,775.06 L545.97,775.13 L546.10,775.20 L546.24,775.27 L546.40,775.35 L546.56,775.44 L546.73,775.53 L546.92,775.61 L547.11,775.70 L547.31,775.79 L547.52,775.88 L547.74,775.96 L547.97,776.04 L548.21,776.11 L548.46,776.17 L548.72,776.23 L548.99,776.27 L549.27,776.30 L549.57,776.31 L549.88,776.30 L550.19,776.26 L550.48,776.20 L550.76,776.13 L551.02,776.05 L551.28,775.95 L551.53,775.85 L551.77,775.74 L552.01,775.62 L552.24,775.49 L552.47,775.36 L552.69,775.22 L552.91,775.08 L553.12,774.94 L553.32,774.79 L553.53,774.63 L553.72,774.48 L553.91,774.32 L554.10,774.16 L554.28,774.00 L554.46,773.84 L554.62,773.68 L554.78,773.53 L554.95,773.37 L555.11,773.20 L555.28,773.02 L555.44,772.84 L555.61,772.65 L555.78,772.45 L555.95,772.24 L556.11,772.03 L556.27,771.80 L556.43,771.57 L556.58,771.32 L556.73,771.07 L556.87,770.80 L557.00,770.52 L557.12,770.22 L557.22,769.90 L557.31,769.56 L557.37,769.19 L557.40,768.81 L557.40,768.44 L557.37,768.08 L557.32,767.74 L557.25,767.42 L557.16,767.10 L557.05,766.80 L556.94,766.52 L556.81,766.24 L556.68,765.98 L556.53,765.72 L556.38,765.48 L556.23,765.24 L556.06,765.01 L555.90,764.79 L555.73,764.58 L555.55,764.37 L555.37,764.17 L555.19,763.98 L555.01,763.79 L554.81,763.60 L554.57,763.38 L554.32,763.18 L554.06,762.99 L553.80,762.81 L553.55,762.65 L553.30,762.50 L553.05,762.36 L552.80,762.23 L552.56,762.10 L552.32,761.98 L552.08,761.87 L551.85,761.76 L551.63,761.65 L551.41,761.55 L551.20,761.45 L550.99,761.35 L550.80,761.25 L550.61,761.16 L550.43,761.06 L550.23,760.95 L549.99,760.82 L549.73,760.68 L549.46,760.54 L549.20,760.42 L548.95,760.29 L548.70,760.17 L548.46,760.06 L548.22,759.94 L547.99,759.83 L547.77,759.73 L547.56,759.62 L547.36,759.51 L547.17,759.41 L547.00,759.31 L546.84,759.22 L546.69,759.12 L546.56,759.03 L546.45,758.95 L546.36,758.87 L546.27,758.79 L546.16,758.69 L546.05,758.56 L545.94,758.44 L545.83,758.31 L545.73,758.17 L545.63,758.04 L545.53,757.90 L545.44,757.75 L545.35,757.60 L545.26,757.45 L545.18,757.30 L545.11,757.14 L545.03,756.98 L544.96,756.82 L544.90,756.66 L544.84,756.50 L544.79,756.33 L544.74,756.17 L544.70,756.00 L544.66,755.84 L544.63,755.68 L544.60,755.52 L544.58,755.35 L544.56,755.17 L544.55,754.98 L544.54,754.79 L544.54,754.59 L544.54,754.38 L544.55,754.17 L544.56,753.95 L544.58,753.73 L544.60,753.51 L544.63,753.28 L544.66,753.05 L544.70,752.81 L544.73,752.57 L544.78,752.33 L544.82,752.09 L544.87,751.84 L544.93,751.60 L544.98,751.35 L545.04,751.11 L545.10,750.86 L545.17,750.61 L545.25,750.35 L545.33,750.09 L545.41,749.82 L545.50,749.56 L545.59,749.29 L545.69,749.02 L545.79,748.75 L545.90,748.48 L546.01,748.21 L546.12,747.95 L546.24,747.68 L546.35,747.42 L546.47,747.16 L546.60,746.90 L546.72,746.64 L546.85,746.39 L546.98,746.15 L547.12,745.90 L547.26,745.65 L547.40,745.41 L547.55,745.16 L547.70,744.91 L547.86,744.66 L548.03,744.41 L548.19,744.16 L548.36,743.92 L548.54,743.67 L548.71,743.42 L548.89,743.18 L549.07,742.94 L549.26,742.70 L549.44,742.46 L549.63,742.23 L549.82,742.00 L550.01,741.77 L550.20,741.55 L550.38,741.33 L550.57,741.12 L550.77,740.91 L550.97,740.70 L551.18,740.49 L551.39,740.28 L551.60,740.08 L551.81,739.87 L552.03,739.67 L552.25,739.47 L552.47,739.27 L552.69,739.07 L552.92,738.87 L553.14,738.68 L553.35,738.49 L553.57,738.31 L553.79,738.12 L554.00,737.94 L554.21,737.77 L554.40,737.60 L554.60,737.43 L554.79,737.27 L554.99,737.11 L555.19,736.95 L555.39,736.79 L555.59,736.63 L555.80,736.48 L556.00,736.33 L556.20,736.18 L556.40,736.03 L556.59,735.89 L556.78,735.76 L556.96,735.63 L557.13,735.50 L557.29,735.38 L557.45,735.27 L557.59,735.17 L557.73,735.07 L557.85,734.98 L557.95,734.91 L557.95,734.91 L558.29,734.58 L558.47,734.15 L558.48,733.68 L558.31,733.25 L557.98,732.91 L557.55,732.73 L557.08,732.72 L556.65,732.89 Z"/><path d="M1.17,321.72 L1.55,322.16 L1.99,322.68 L2.50,323.27 L3.06,323.93 L3.66,324.64 L4.31,325.40 L5.00,326.21 L5.72,327.05 L6.47,327.93 L7.24,328.84 L8.03,329.76 L8.84,330.70 L9.65,331.65 L10.47,332.59 L11.28,333.54 L12.08,334.47 L12.88,335.38 L13.66,336.27 L14.41,337.14 L15.14,337.96 L15.87,338.79 L16.64,339.65 L17.43,340.53 L18.24,341.43 L19.07,342.35 L19.91,343.28 L20.75,344.21 L21.59,345.14 L22.43,346.05 L23.26,346.96 L24.06,347.84 L24.85,348.70 L25.60,349.53 L26.33,350.31 L27.01,351.06 L27.64,351.75 L28.23,352.39 L28.75,352.96 L29.22,353.47 L29.61,353.91 L29.61,353.91 L29.99,354.19 L30.45,354.30 L30.91,354.23 L31.31,353.99 L31.59,353.61 L31.70,353.15 L31.63,352.69 L31.39,352.29 L31.39,352.29 L30.99,351.85 L30.52,351.35 L29.99,350.77 L29.40,350.13 L28.76,349.44 L28.07,348.70 L27.35,347.92 L26.59,347.10 L25.80,346.25 L24.99,345.37 L24.17,344.47 L23.33,343.55 L22.48,342.63 L21.63,341.71 L20.79,340.79 L19.96,339.87 L19.15,338.98 L18.35,338.10 L17.59,337.25 L16.86,336.44 L16.13,335.62 L15.38,334.76 L14.60,333.88 L13.80,332.97 L12.99,332.05 L12.18,331.11 L11.36,330.17 L10.55,329.23 L9.74,328.29 L8.94,327.38 L8.17,326.48 L7.42,325.60 L6.69,324.76 L6.00,323.96 L5.35,323.20 L4.74,322.49 L4.18,321.84 L3.67,321.25 L3.22,320.73 L2.83,320.28 L2.83,320.28 L2.49,320.02 L2.08,319.90 L1.66,319.96 L1.28,320.17 L1.02,320.51 L0.90,320.92 L0.96,321.34 L1.17,321.72 Z"/><path d="M-0.92,342.73 L-0.77,342.70 L-0.59,342.66 L-0.39,342.62 L-0.17,342.57 L0.06,342.52 L0.32,342.46 L0.59,342.40 L0.87,342.34 L1.16,342.28 L1.47,342.21 L1.78,342.14 L2.09,342.08 L2.41,342.01 L2.73,341.94 L3.05,341.87 L3.37,341.80 L3.68,341.73 L3.99,341.66 L4.29,341.60 L4.57,341.54 L4.86,341.47 L5.15,341.41 L5.44,341.35 L5.74,341.28 L6.03,341.21 L6.33,341.15 L6.63,341.08 L6.93,341.02 L7.23,340.95 L7.53,340.88 L7.83,340.82 L8.13,340.75 L8.43,340.69 L8.73,340.62 L9.03,340.56 L9.32,340.49 L9.62,340.43 L9.92,340.37 L10.22,340.31 L10.51,340.25 L10.81,340.19 L11.10,340.13 L11.40,340.07 L11.70,340.02 L12.00,339.96 L12.31,339.90 L12.61,339.84 L12.91,339.79 L13.21,339.73 L13.51,339.68 L13.81,339.62 L14.11,339.57 L14.41,339.51 L14.70,339.46 L15.00,339.41 L15.29,339.36 L15.58,339.31 L15.87,339.26 L16.15,339.21 L16.43,339.16 L16.70,339.12 L16.96,339.08 L17.22,339.04 L17.48,339.00 L17.74,338.96 L17.99,338.93 L18.25,338.89 L18.51,338.86 L18.77,338.82 L19.03,338.79 L19.29,338.75 L19.55,338.72 L19.81,338.68 L20.08,338.64 L20.35,338.60 L20.63,338.56 L20.91,338.51 L21.19,338.46 L21.47,338.41 L21.76,338.36 L22.05,338.30 L22.34,338.25 L22.64,338.19 L22.94,338.13 L23.24,338.07 L23.55,338.01 L23.86,337.94 L24.17,337.88 L24.48,337.81 L24.79,337.74 L25.10,337.67 L25.41,337.60 L25.71,337.53 L26.01,337.46 L26.30,337.39 L26.58,337.31 L26.86,337.24 L27.13,337.17 L27.39,337.09 L27.64,337.02 L27.86,336.95 L28.07,336.88 L28.27,336.82 L28.48,336.75 L28.68,336.68 L28.88,336.61 L29.08,336.54 L29.28,336.47 L29.48,336.40 L29.68,336.32 L29.88,336.24 L30.08,336.15 L30.27,336.05 L30.47,335.95 L30.67,335.84 L30.87,335.72 L31.07,335.59 L31.26,335.45 L31.46,335.30 L31.65,335.14 L31.83,334.97 L32.00,334.78 L32.15,334.59 L32.29,334.40 L32.42,334.20 L32.54,334.00 L32.64,333.80 L32.73,333.60 L32.80,333.40 L32.87,333.20 L32.92,333.00 L32.97,332.81 L33.01,332.61 L33.04,332.43 L33.06,332.24 L33.07,332.06 L33.08,331.88 L33.09,331.71 L33.09,331.54 L33.09,331.36 L33.09,331.16 L33.07,330.94 L33.05,330.74 L33.01,330.54 L32.97,330.35 L32.92,330.17 L32.87,329.99 L32.82,329.82 L32.76,329.65 L32.70,329.48 L32.64,329.32 L32.57,329.16 L32.51,329.01 L32.45,328.86 L32.38,328.71 L32.32,328.57 L32.26,328.44 L32.20,328.31 L32.15,328.18 L32.09,328.05 L32.02,327.90 L31.94,327.74 L31.86,327.59 L31.78,327.44 L31.71,327.30 L31.63,327.16 L31.55,327.03 L31.47,326.91 L31.40,326.78 L31.32,326.67 L31.25,326.56 L31.19,326.45 L31.13,326.36 L31.07,326.27 L31.02,326.18 L30.97,326.11 L30.94,326.05 L30.91,326.01 L30.90,325.98 L30.89,325.95 L30.89,325.95 L30.43,325.53 L29.84,325.32 L29.21,325.35 L28.65,325.61 L28.23,326.07 L28.02,326.66 L28.05,327.29 L28.31,327.85 L28.31,327.85 L28.37,327.91 L28.44,327.99 L28.50,328.06 L28.57,328.12 L28.64,328.18 L28.71,328.25 L28.78,328.31 L28.86,328.38 L28.93,328.44 L29.00,328.51 L29.07,328.57 L29.14,328.64 L29.20,328.71 L29.27,328.78 L29.32,328.84 L29.37,328.91 L29.42,328.97 L29.46,329.03 L29.49,329.09 L29.51,329.15 L29.55,329.24 L29.58,329.35 L29.62,329.45 L29.65,329.56 L29.68,329.68 L29.71,329.79 L29.73,329.91 L29.76,330.03 L29.77,330.14 L29.79,330.26 L29.80,330.37 L29.81,330.47 L29.81,330.58 L29.80,330.67 L29.80,330.76 L29.79,330.84 L29.77,330.91 L29.75,330.96 L29.73,331.00 L29.71,331.04 L29.68,331.10 L29.65,331.17 L29.61,331.24 L29.57,331.30 L29.53,331.36 L29.49,331.42 L29.45,331.46 L29.41,331.51 L29.36,331.55 L29.32,331.58 L29.28,331.60 L29.23,331.62 L29.19,331.64 L29.15,331.65 L29.12,331.66 L29.08,331.66 L29.05,331.66 L29.02,331.66 L28.99,331.66 L28.95,331.66 L28.92,331.66 L28.88,331.67 L28.83,331.67 L28.77,331.69 L28.70,331.70 L28.62,331.72 L28.53,331.74 L28.43,331.76 L28.32,331.78 L28.20,331.81 L28.06,331.83 L27.91,331.86 L27.76,331.89 L27.59,331.93 L27.41,331.96 L27.22,332.00 L27.02,332.04 L26.81,332.09 L26.59,332.13 L26.36,332.18 L26.14,332.23 L25.92,332.28 L25.68,332.33 L25.43,332.38 L25.17,332.43 L24.90,332.49 L24.62,332.54 L24.34,332.60 L24.05,332.65 L23.76,332.71 L23.46,332.77 L23.16,332.82 L22.86,332.88 L22.56,332.93 L22.26,332.99 L21.97,333.04 L21.68,333.09 L21.39,333.14 L21.11,333.19 L20.84,333.24 L20.58,333.29 L20.33,333.33 L20.07,333.37 L19.82,333.41 L19.57,333.44 L19.32,333.48 L19.07,333.52 L18.82,333.55 L18.57,333.59 L18.31,333.62 L18.05,333.66 L17.79,333.70 L17.53,333.73 L17.26,333.77 L16.99,333.81 L16.72,333.85 L16.44,333.90 L16.15,333.94 L15.86,333.99 L15.57,334.04 L15.28,334.08 L14.99,334.13 L14.70,334.18 L14.40,334.24 L14.10,334.29 L13.80,334.34 L13.50,334.40 L13.19,334.45 L12.88,334.51 L12.58,334.56 L12.27,334.62 L11.96,334.67 L11.65,334.73 L11.34,334.79 L11.03,334.85 L10.72,334.91 L10.41,334.97 L10.10,335.03 L9.80,335.09 L9.49,335.15 L9.18,335.21 L8.88,335.27 L8.57,335.34 L8.26,335.40 L7.95,335.46 L7.64,335.53 L7.33,335.59 L7.03,335.66 L6.72,335.73 L6.41,335.79 L6.11,335.86 L5.80,335.92 L5.50,335.99 L5.20,336.06 L4.90,336.13 L4.60,336.19 L4.30,336.26 L4.01,336.33 L3.72,336.40 L3.43,336.46 L3.13,336.53 L2.82,336.61 L2.51,336.68 L2.19,336.76 L1.87,336.84 L1.55,336.93 L1.23,337.01 L0.91,337.09 L0.59,337.17 L0.28,337.25 L-0.02,337.33 L-0.31,337.41 L-0.59,337.48 L-0.86,337.55 L-1.11,337.62 L-1.35,337.68 L-1.56,337.73 L-1.76,337.78 L-1.93,337.83 L-2.08,337.87 L-2.08,337.87 L-2.96,338.27 L-3.63,338.99 L-3.97,339.90 L-3.93,340.88 L-3.53,341.76 L-2.81,342.43 L-1.90,342.77 L-0.92,342.73 Z"/><path d="M-0.90,342.01 L-0.86,342.09 L-0.82,342.18 L-0.78,342.29 L-0.73,342.41 L-0.67,342.54 L-0.61,342.69 L-0.55,342.84 L-0.48,343.01 L-0.41,343.18 L-0.33,343.35 L-0.26,343.53 L-0.18,343.71 L-0.10,343.89 L-0.02,344.07 L0.06,344.25 L0.14,344.43 L0.22,344.61 L0.29,344.78 L0.37,344.95 L0.45,345.11 L0.53,345.27 L0.61,345.42 L0.69,345.58 L0.78,345.74 L0.86,345.89 L0.95,346.05 L1.03,346.20 L1.11,346.34 L1.20,346.49 L1.28,346.63 L1.35,346.76 L1.43,346.89 L1.50,347.02 L1.57,347.13 L1.63,347.24 L1.69,347.34 L1.74,347.43 L1.78,347.51 L1.82,347.57 L1.85,347.63 L1.85,347.63 L2.26,348.05 L2.80,348.27 L3.39,348.27 L3.93,348.05 L4.35,347.64 L4.57,347.10 L4.57,346.51 L4.35,345.97 L4.35,345.97 L4.30,345.90 L4.23,345.82 L4.17,345.74 L4.10,345.65 L4.02,345.56 L3.94,345.47 L3.85,345.37 L3.77,345.26 L3.68,345.16 L3.59,345.05 L3.49,344.93 L3.40,344.82 L3.31,344.70 L3.22,344.58 L3.13,344.46 L3.05,344.35 L2.96,344.23 L2.89,344.11 L2.81,344.00 L2.75,343.89 L2.69,343.78 L2.62,343.65 L2.55,343.51 L2.48,343.36 L2.40,343.20 L2.33,343.04 L2.26,342.87 L2.19,342.70 L2.12,342.53 L2.05,342.36 L1.98,342.19 L1.91,342.03 L1.85,341.87 L1.79,341.71 L1.73,341.57 L1.67,341.43 L1.62,341.30 L1.58,341.19 L1.53,341.08 L1.50,340.99 L1.50,340.99 L1.21,340.57 L0.79,340.29 L0.29,340.20 L-0.21,340.30 L-0.63,340.59 L-0.91,341.01 L-1.00,341.51 L-0.90,342.01 Z"/></g>
</svg>
</body></html>
